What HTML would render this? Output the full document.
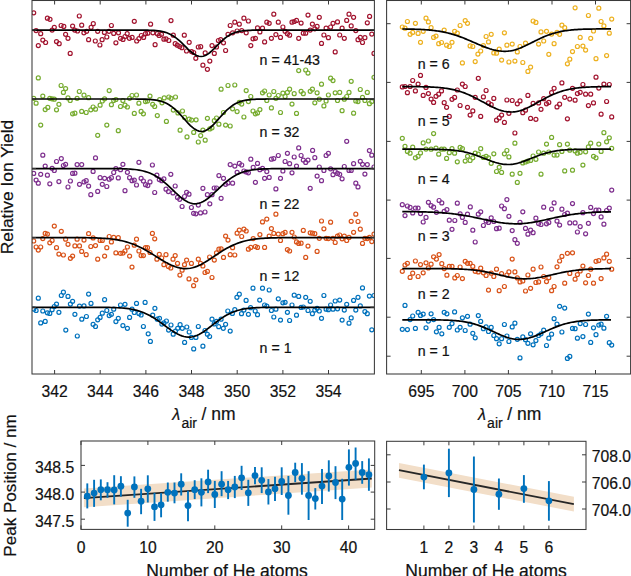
<!DOCTYPE html><html><head><meta charset="utf-8"><style>html,body{margin:0;padding:0;background:#fff;width:631px;height:576px;overflow:hidden}svg{display:block}text{font-family:"Liberation Sans",sans-serif;fill:#111;stroke:#111;stroke-width:0.2px}</style></head><body>
<svg width="631" height="576" viewBox="0 0 631 576">
<defs><clipPath id="cl"><rect x="32.0" y="0" width="342.4" height="374.0"/></clipPath>
<clipPath id="cr"><rect x="386.6" y="0" width="244.0" height="374.0"/></clipPath></defs>
<g clip-path="url(#cl)">
<g fill="none" stroke="#A2142F" stroke-width="1.2"><circle cx="33.7" cy="12.8" r="2.0"/><circle cx="36.1" cy="30.6" r="2.0"/><circle cx="38.3" cy="45.6" r="2.0"/><circle cx="40.7" cy="33.7" r="2.0"/><circle cx="42.8" cy="40.1" r="2.0"/><circle cx="45.6" cy="42.5" r="2.0"/><circle cx="47.4" cy="18.2" r="2.0"/><circle cx="50.0" cy="19.3" r="2.0"/><circle cx="52.1" cy="30.1" r="2.0"/><circle cx="54.3" cy="27.3" r="2.0"/><circle cx="56.5" cy="41.6" r="2.0"/><circle cx="59.2" cy="43.7" r="2.0"/><circle cx="61.1" cy="25.5" r="2.0"/><circle cx="63.8" cy="26.4" r="2.0"/><circle cx="65.6" cy="34.3" r="2.0"/><circle cx="68.0" cy="38.3" r="2.0"/><circle cx="70.2" cy="53.4" r="2.0"/><circle cx="72.6" cy="26.1" r="2.0"/><circle cx="74.7" cy="30.1" r="2.0"/><circle cx="77.5" cy="31.0" r="2.0"/><circle cx="79.3" cy="16.0" r="2.0"/><circle cx="81.7" cy="25.2" r="2.0"/><circle cx="83.9" cy="32.8" r="2.0"/><circle cx="86.6" cy="31.3" r="2.0"/><circle cx="88.6" cy="39.7" r="2.0"/><circle cx="91.1" cy="27.3" r="2.0"/><circle cx="93.3" cy="23.7" r="2.0"/><circle cx="95.3" cy="41.0" r="2.0"/><circle cx="97.7" cy="31.3" r="2.0"/><circle cx="99.9" cy="45.0" r="2.0"/><circle cx="102.1" cy="39.7" r="2.0"/><circle cx="104.4" cy="32.4" r="2.0"/><circle cx="106.8" cy="37.0" r="2.0"/><circle cx="109.0" cy="31.3" r="2.0"/><circle cx="111.4" cy="25.5" r="2.0"/><circle cx="113.7" cy="33.4" r="2.0"/><circle cx="115.9" cy="42.8" r="2.0"/><circle cx="118.5" cy="32.8" r="2.0"/><circle cx="120.5" cy="38.3" r="2.0"/><circle cx="123.0" cy="39.4" r="2.0"/><circle cx="125.0" cy="36.5" r="2.0"/><circle cx="127.2" cy="33.7" r="2.0"/><circle cx="129.4" cy="38.3" r="2.0"/><circle cx="132.1" cy="37.4" r="2.0"/><circle cx="134.3" cy="21.3" r="2.0"/><circle cx="136.7" cy="41.0" r="2.0"/><circle cx="138.9" cy="38.6" r="2.0"/><circle cx="141.3" cy="35.5" r="2.0"/><circle cx="143.6" cy="37.4" r="2.0"/><circle cx="145.5" cy="33.7" r="2.0"/><circle cx="147.8" cy="33.2" r="2.0"/><circle cx="150.6" cy="24.2" r="2.0"/><circle cx="152.9" cy="32.8" r="2.0"/><circle cx="155.1" cy="44.7" r="2.0"/><circle cx="157.3" cy="33.7" r="2.0"/><circle cx="159.1" cy="35.5" r="2.0"/><circle cx="161.5" cy="34.3" r="2.0"/><circle cx="163.9" cy="39.2" r="2.0"/><circle cx="166.0" cy="38.8" r="2.0"/><circle cx="168.8" cy="40.5" r="2.0"/><circle cx="171.0" cy="20.6" r="2.0"/><circle cx="173.3" cy="35.2" r="2.0"/><circle cx="175.2" cy="43.7" r="2.0"/><circle cx="177.3" cy="45.2" r="2.0"/><circle cx="179.7" cy="46.5" r="2.0"/><circle cx="181.9" cy="47.7" r="2.0"/><circle cx="184.3" cy="35.2" r="2.0"/><circle cx="186.5" cy="51.0" r="2.0"/><circle cx="189.2" cy="42.3" r="2.0"/><circle cx="191.6" cy="51.6" r="2.0"/><circle cx="193.7" cy="52.5" r="2.0"/><circle cx="195.8" cy="58.3" r="2.0"/><circle cx="198.3" cy="47.0" r="2.0"/><circle cx="200.7" cy="46.7" r="2.0"/><circle cx="202.9" cy="65.2" r="2.0"/><circle cx="205.2" cy="52.9" r="2.0"/><circle cx="207.4" cy="69.3" r="2.0"/><circle cx="209.8" cy="61.1" r="2.0"/><circle cx="212.0" cy="45.6" r="2.0"/><circle cx="214.3" cy="53.4" r="2.0"/><circle cx="216.5" cy="47.0" r="2.0"/><circle cx="218.4" cy="40.5" r="2.0"/><circle cx="220.7" cy="39.7" r="2.0"/><circle cx="223.5" cy="42.8" r="2.0"/><circle cx="225.6" cy="50.5" r="2.0"/><circle cx="228.0" cy="34.3" r="2.0"/><circle cx="230.2" cy="25.5" r="2.0"/><circle cx="232.6" cy="32.8" r="2.0"/><circle cx="234.8" cy="22.2" r="2.0"/><circle cx="237.1" cy="31.0" r="2.0"/><circle cx="239.3" cy="24.2" r="2.0"/><circle cx="241.7" cy="30.6" r="2.0"/><circle cx="243.9" cy="18.2" r="2.0"/><circle cx="246.2" cy="32.8" r="2.0"/><circle cx="248.4" cy="21.0" r="2.0"/><circle cx="250.8" cy="45.6" r="2.0"/><circle cx="253.0" cy="38.8" r="2.0"/><circle cx="255.4" cy="38.3" r="2.0"/><circle cx="257.5" cy="27.9" r="2.0"/><circle cx="259.9" cy="31.9" r="2.0"/><circle cx="262.5" cy="28.2" r="2.0"/><circle cx="264.6" cy="41.9" r="2.0"/><circle cx="266.8" cy="22.2" r="2.0"/><circle cx="269.2" cy="23.3" r="2.0"/><circle cx="271.4" cy="38.3" r="2.0"/><circle cx="273.8" cy="14.2" r="2.0"/><circle cx="275.9" cy="34.6" r="2.0"/><circle cx="278.3" cy="22.2" r="2.0"/><circle cx="280.5" cy="37.4" r="2.0"/><circle cx="282.9" cy="27.0" r="2.0"/><circle cx="285.1" cy="31.3" r="2.0"/><circle cx="287.4" cy="33.7" r="2.0"/><circle cx="289.6" cy="35.2" r="2.0"/><circle cx="292.0" cy="22.2" r="2.0"/><circle cx="294.2" cy="21.5" r="2.0"/><circle cx="296.5" cy="20.4" r="2.0"/><circle cx="298.7" cy="38.3" r="2.0"/><circle cx="301.1" cy="23.1" r="2.0"/><circle cx="303.3" cy="33.2" r="2.0"/><circle cx="305.7" cy="33.2" r="2.0"/><circle cx="308.0" cy="15.1" r="2.0"/><circle cx="310.2" cy="30.1" r="2.0"/><circle cx="312.4" cy="24.1" r="2.0"/><circle cx="314.8" cy="28.8" r="2.0"/><circle cx="317.1" cy="26.4" r="2.0"/><circle cx="319.3" cy="17.3" r="2.0"/><circle cx="321.5" cy="43.4" r="2.0"/><circle cx="323.9" cy="35.0" r="2.0"/><circle cx="326.1" cy="28.2" r="2.0"/><circle cx="328.4" cy="37.7" r="2.0"/><circle cx="330.6" cy="27.0" r="2.0"/><circle cx="333.0" cy="23.3" r="2.0"/><circle cx="335.2" cy="51.9" r="2.0"/><circle cx="337.5" cy="21.9" r="2.0"/><circle cx="339.7" cy="35.0" r="2.0"/><circle cx="342.1" cy="28.2" r="2.0"/><circle cx="344.3" cy="38.3" r="2.0"/><circle cx="346.7" cy="20.4" r="2.0"/><circle cx="349.0" cy="14.2" r="2.0"/><circle cx="351.2" cy="25.9" r="2.0"/><circle cx="353.6" cy="17.3" r="2.0"/><circle cx="355.8" cy="30.6" r="2.0"/><circle cx="358.0" cy="39.7" r="2.0"/><circle cx="360.3" cy="37.4" r="2.0"/><circle cx="362.5" cy="42.5" r="2.0"/><circle cx="364.9" cy="37.7" r="2.0"/><circle cx="367.3" cy="22.8" r="2.0"/><circle cx="369.6" cy="16.4" r="2.0"/><circle cx="371.8" cy="34.1" r="2.0"/><circle cx="374.0" cy="53.4" r="2.0"/></g>
<g fill="none" stroke="#77AC30" stroke-width="1.2"><circle cx="33.7" cy="98.3" r="2.0"/><circle cx="36.1" cy="103.2" r="2.0"/><circle cx="38.3" cy="77.9" r="2.0"/><circle cx="40.7" cy="125.1" r="2.0"/><circle cx="42.8" cy="96.1" r="2.0"/><circle cx="45.2" cy="109.6" r="2.0"/><circle cx="47.8" cy="107.4" r="2.0"/><circle cx="49.8" cy="98.3" r="2.0"/><circle cx="52.0" cy="98.8" r="2.0"/><circle cx="54.3" cy="99.2" r="2.0"/><circle cx="56.5" cy="109.8" r="2.0"/><circle cx="58.9" cy="104.3" r="2.0"/><circle cx="61.1" cy="85.5" r="2.0"/><circle cx="63.4" cy="92.4" r="2.0"/><circle cx="65.6" cy="88.6" r="2.0"/><circle cx="68.0" cy="97.9" r="2.0"/><circle cx="70.2" cy="100.5" r="2.0"/><circle cx="72.6" cy="113.8" r="2.0"/><circle cx="74.9" cy="113.2" r="2.0"/><circle cx="77.1" cy="98.3" r="2.0"/><circle cx="79.3" cy="91.5" r="2.0"/><circle cx="81.7" cy="111.4" r="2.0"/><circle cx="84.0" cy="95.2" r="2.0"/><circle cx="86.2" cy="112.5" r="2.0"/><circle cx="88.6" cy="97.7" r="2.0"/><circle cx="90.8" cy="109.8" r="2.0"/><circle cx="93.1" cy="107.0" r="2.0"/><circle cx="95.5" cy="109.2" r="2.0"/><circle cx="97.7" cy="135.3" r="2.0"/><circle cx="100.1" cy="105.2" r="2.0"/><circle cx="102.3" cy="101.0" r="2.0"/><circle cx="104.6" cy="98.8" r="2.0"/><circle cx="106.8" cy="125.1" r="2.0"/><circle cx="109.2" cy="90.6" r="2.0"/><circle cx="111.4" cy="104.7" r="2.0"/><circle cx="113.7" cy="100.5" r="2.0"/><circle cx="115.9" cy="99.5" r="2.0"/><circle cx="118.3" cy="130.7" r="2.0"/><circle cx="120.5" cy="106.5" r="2.0"/><circle cx="122.9" cy="100.6" r="2.0"/><circle cx="125.0" cy="105.2" r="2.0"/><circle cx="127.4" cy="107.0" r="2.0"/><circle cx="129.6" cy="98.3" r="2.0"/><circle cx="132.0" cy="95.5" r="2.0"/><circle cx="134.3" cy="113.4" r="2.0"/><circle cx="136.5" cy="95.0" r="2.0"/><circle cx="138.9" cy="103.2" r="2.0"/><circle cx="141.1" cy="111.4" r="2.0"/><circle cx="143.4" cy="113.8" r="2.0"/><circle cx="145.5" cy="101.6" r="2.0"/><circle cx="147.5" cy="101.0" r="2.0"/><circle cx="150.0" cy="96.1" r="2.0"/><circle cx="152.7" cy="104.3" r="2.0"/><circle cx="154.7" cy="106.5" r="2.0"/><circle cx="157.3" cy="115.6" r="2.0"/><circle cx="159.7" cy="99.7" r="2.0"/><circle cx="162.0" cy="102.8" r="2.0"/><circle cx="164.2" cy="97.9" r="2.0"/><circle cx="166.4" cy="121.4" r="2.0"/><circle cx="168.8" cy="97.0" r="2.0"/><circle cx="171.0" cy="98.3" r="2.0"/><circle cx="173.3" cy="110.1" r="2.0"/><circle cx="175.5" cy="97.0" r="2.0"/><circle cx="177.9" cy="112.9" r="2.0"/><circle cx="180.1" cy="130.2" r="2.0"/><circle cx="182.5" cy="111.0" r="2.0"/><circle cx="184.6" cy="117.4" r="2.0"/><circle cx="187.0" cy="136.9" r="2.0"/><circle cx="189.2" cy="119.2" r="2.0"/><circle cx="191.6" cy="120.1" r="2.0"/><circle cx="193.7" cy="132.4" r="2.0"/><circle cx="196.1" cy="119.8" r="2.0"/><circle cx="198.3" cy="142.0" r="2.0"/><circle cx="200.7" cy="135.6" r="2.0"/><circle cx="202.9" cy="130.2" r="2.0"/><circle cx="205.2" cy="140.2" r="2.0"/><circle cx="207.4" cy="118.3" r="2.0"/><circle cx="209.8" cy="128.9" r="2.0"/><circle cx="212.0" cy="127.8" r="2.0"/><circle cx="214.3" cy="120.7" r="2.0"/><circle cx="216.5" cy="118.0" r="2.0"/><circle cx="218.9" cy="124.2" r="2.0"/><circle cx="221.1" cy="89.2" r="2.0"/><circle cx="223.5" cy="112.5" r="2.0"/><circle cx="225.6" cy="125.1" r="2.0"/><circle cx="228.0" cy="85.5" r="2.0"/><circle cx="230.2" cy="126.0" r="2.0"/><circle cx="232.6" cy="108.8" r="2.0"/><circle cx="234.8" cy="85.0" r="2.0"/><circle cx="237.1" cy="111.6" r="2.0"/><circle cx="239.3" cy="102.3" r="2.0"/><circle cx="241.7" cy="104.1" r="2.0"/><circle cx="243.9" cy="117.0" r="2.0"/><circle cx="246.2" cy="90.6" r="2.0"/><circle cx="248.4" cy="101.6" r="2.0"/><circle cx="250.8" cy="96.5" r="2.0"/><circle cx="253.0" cy="111.0" r="2.0"/><circle cx="255.4" cy="113.8" r="2.0"/><circle cx="257.5" cy="112.9" r="2.0"/><circle cx="259.9" cy="109.6" r="2.0"/><circle cx="262.5" cy="92.8" r="2.0"/><circle cx="264.6" cy="91.0" r="2.0"/><circle cx="266.8" cy="100.5" r="2.0"/><circle cx="269.2" cy="95.0" r="2.0"/><circle cx="271.4" cy="107.9" r="2.0"/><circle cx="273.8" cy="91.5" r="2.0"/><circle cx="275.9" cy="98.3" r="2.0"/><circle cx="278.3" cy="95.5" r="2.0"/><circle cx="280.5" cy="112.5" r="2.0"/><circle cx="282.9" cy="93.2" r="2.0"/><circle cx="285.1" cy="96.5" r="2.0"/><circle cx="287.4" cy="92.4" r="2.0"/><circle cx="289.6" cy="89.2" r="2.0"/><circle cx="292.0" cy="104.1" r="2.0"/><circle cx="294.2" cy="93.7" r="2.0"/><circle cx="296.5" cy="113.4" r="2.0"/><circle cx="298.7" cy="70.6" r="2.0"/><circle cx="301.1" cy="91.3" r="2.0"/><circle cx="303.3" cy="93.7" r="2.0"/><circle cx="305.7" cy="70.0" r="2.0"/><circle cx="308.0" cy="73.1" r="2.0"/><circle cx="310.2" cy="91.3" r="2.0"/><circle cx="312.4" cy="89.2" r="2.0"/><circle cx="314.8" cy="102.8" r="2.0"/><circle cx="317.1" cy="92.8" r="2.0"/><circle cx="319.3" cy="99.2" r="2.0"/><circle cx="321.5" cy="84.2" r="2.0"/><circle cx="323.9" cy="105.9" r="2.0"/><circle cx="326.1" cy="101.0" r="2.0"/><circle cx="328.4" cy="95.0" r="2.0"/><circle cx="330.6" cy="78.2" r="2.0"/><circle cx="333.0" cy="80.6" r="2.0"/><circle cx="335.2" cy="92.8" r="2.0"/><circle cx="337.5" cy="100.5" r="2.0"/><circle cx="339.7" cy="92.4" r="2.0"/><circle cx="342.1" cy="110.7" r="2.0"/><circle cx="344.3" cy="99.2" r="2.0"/><circle cx="346.7" cy="96.5" r="2.0"/><circle cx="349.0" cy="92.4" r="2.0"/><circle cx="351.2" cy="81.3" r="2.0"/><circle cx="353.6" cy="113.2" r="2.0"/><circle cx="355.8" cy="101.0" r="2.0"/><circle cx="358.0" cy="101.6" r="2.0"/><circle cx="360.3" cy="89.5" r="2.0"/><circle cx="362.5" cy="97.4" r="2.0"/><circle cx="364.9" cy="100.5" r="2.0"/><circle cx="367.3" cy="92.4" r="2.0"/><circle cx="369.4" cy="103.7" r="2.0"/><circle cx="371.8" cy="101.6" r="2.0"/><circle cx="374.0" cy="77.3" r="2.0"/></g>
<g fill="none" stroke="#7E2F8E" stroke-width="1.2"><circle cx="33.7" cy="173.4" r="2.0"/><circle cx="36.1" cy="180.1" r="2.0"/><circle cx="38.3" cy="183.2" r="2.0"/><circle cx="40.7" cy="174.3" r="2.0"/><circle cx="42.8" cy="155.2" r="2.0"/><circle cx="45.2" cy="166.1" r="2.0"/><circle cx="47.4" cy="175.2" r="2.0"/><circle cx="49.8" cy="183.8" r="2.0"/><circle cx="52.1" cy="168.3" r="2.0"/><circle cx="54.3" cy="170.5" r="2.0"/><circle cx="56.5" cy="161.5" r="2.0"/><circle cx="58.9" cy="181.6" r="2.0"/><circle cx="61.3" cy="158.6" r="2.0"/><circle cx="63.4" cy="165.5" r="2.0"/><circle cx="65.6" cy="164.3" r="2.0"/><circle cx="68.0" cy="187.0" r="2.0"/><circle cx="70.4" cy="181.0" r="2.0"/><circle cx="72.6" cy="173.4" r="2.0"/><circle cx="74.9" cy="173.2" r="2.0"/><circle cx="77.1" cy="164.6" r="2.0"/><circle cx="79.5" cy="184.3" r="2.0"/><circle cx="81.7" cy="164.6" r="2.0"/><circle cx="84.0" cy="181.9" r="2.0"/><circle cx="86.2" cy="180.7" r="2.0"/><circle cx="88.6" cy="186.1" r="2.0"/><circle cx="90.8" cy="194.7" r="2.0"/><circle cx="93.1" cy="171.4" r="2.0"/><circle cx="95.5" cy="157.9" r="2.0"/><circle cx="97.7" cy="191.4" r="2.0"/><circle cx="100.1" cy="177.7" r="2.0"/><circle cx="102.3" cy="184.3" r="2.0"/><circle cx="104.6" cy="178.3" r="2.0"/><circle cx="106.8" cy="186.5" r="2.0"/><circle cx="109.2" cy="179.2" r="2.0"/><circle cx="111.4" cy="177.7" r="2.0"/><circle cx="113.7" cy="172.5" r="2.0"/><circle cx="115.9" cy="168.6" r="2.0"/><circle cx="118.3" cy="177.9" r="2.0"/><circle cx="120.5" cy="169.7" r="2.0"/><circle cx="122.9" cy="164.3" r="2.0"/><circle cx="125.0" cy="190.7" r="2.0"/><circle cx="127.4" cy="172.3" r="2.0"/><circle cx="129.6" cy="177.7" r="2.0"/><circle cx="132.0" cy="180.7" r="2.0"/><circle cx="134.3" cy="180.1" r="2.0"/><circle cx="136.5" cy="185.0" r="2.0"/><circle cx="138.9" cy="162.3" r="2.0"/><circle cx="141.1" cy="178.3" r="2.0"/><circle cx="143.4" cy="181.0" r="2.0"/><circle cx="145.5" cy="184.7" r="2.0"/><circle cx="147.8" cy="185.6" r="2.0"/><circle cx="150.0" cy="181.9" r="2.0"/><circle cx="152.4" cy="165.0" r="2.0"/><circle cx="154.7" cy="192.5" r="2.0"/><circle cx="156.9" cy="175.2" r="2.0"/><circle cx="159.3" cy="179.6" r="2.0"/><circle cx="161.7" cy="180.7" r="2.0"/><circle cx="163.9" cy="178.8" r="2.0"/><circle cx="166.0" cy="189.2" r="2.0"/><circle cx="168.4" cy="191.6" r="2.0"/><circle cx="170.8" cy="174.3" r="2.0"/><circle cx="173.0" cy="192.9" r="2.0"/><circle cx="175.2" cy="186.0" r="2.0"/><circle cx="177.5" cy="197.4" r="2.0"/><circle cx="179.7" cy="199.3" r="2.0"/><circle cx="182.1" cy="206.5" r="2.0"/><circle cx="184.5" cy="196.5" r="2.0"/><circle cx="186.6" cy="192.3" r="2.0"/><circle cx="189.0" cy="194.2" r="2.0"/><circle cx="191.4" cy="207.5" r="2.0"/><circle cx="193.6" cy="213.3" r="2.0"/><circle cx="195.9" cy="213.8" r="2.0"/><circle cx="198.3" cy="205.1" r="2.0"/><circle cx="200.5" cy="212.9" r="2.0"/><circle cx="202.9" cy="188.3" r="2.0"/><circle cx="205.0" cy="212.0" r="2.0"/><circle cx="207.4" cy="194.7" r="2.0"/><circle cx="209.8" cy="203.8" r="2.0"/><circle cx="212.0" cy="194.7" r="2.0"/><circle cx="214.2" cy="188.0" r="2.0"/><circle cx="216.5" cy="188.0" r="2.0"/><circle cx="218.9" cy="175.6" r="2.0"/><circle cx="221.1" cy="198.3" r="2.0"/><circle cx="223.5" cy="178.3" r="2.0"/><circle cx="225.6" cy="184.3" r="2.0"/><circle cx="228.0" cy="182.9" r="2.0"/><circle cx="230.2" cy="164.6" r="2.0"/><circle cx="232.6" cy="183.2" r="2.0"/><circle cx="234.8" cy="166.1" r="2.0"/><circle cx="237.1" cy="172.3" r="2.0"/><circle cx="239.3" cy="163.4" r="2.0"/><circle cx="241.7" cy="165.0" r="2.0"/><circle cx="243.9" cy="171.0" r="2.0"/><circle cx="246.2" cy="171.9" r="2.0"/><circle cx="248.4" cy="172.8" r="2.0"/><circle cx="250.8" cy="159.2" r="2.0"/><circle cx="253.2" cy="167.4" r="2.0"/><circle cx="255.4" cy="182.3" r="2.0"/><circle cx="257.5" cy="163.4" r="2.0"/><circle cx="259.9" cy="169.7" r="2.0"/><circle cx="262.5" cy="168.3" r="2.0"/><circle cx="264.6" cy="178.3" r="2.0"/><circle cx="266.8" cy="171.6" r="2.0"/><circle cx="269.2" cy="177.4" r="2.0"/><circle cx="271.4" cy="159.2" r="2.0"/><circle cx="273.8" cy="158.6" r="2.0"/><circle cx="275.9" cy="188.9" r="2.0"/><circle cx="278.3" cy="155.5" r="2.0"/><circle cx="280.5" cy="178.3" r="2.0"/><circle cx="282.9" cy="171.0" r="2.0"/><circle cx="285.1" cy="161.5" r="2.0"/><circle cx="287.4" cy="153.3" r="2.0"/><circle cx="289.6" cy="163.7" r="2.0"/><circle cx="292.0" cy="172.8" r="2.0"/><circle cx="294.2" cy="157.0" r="2.0"/><circle cx="296.5" cy="166.1" r="2.0"/><circle cx="298.7" cy="147.9" r="2.0"/><circle cx="301.1" cy="155.5" r="2.0"/><circle cx="303.3" cy="160.1" r="2.0"/><circle cx="305.7" cy="162.4" r="2.0"/><circle cx="308.0" cy="160.1" r="2.0"/><circle cx="310.2" cy="188.3" r="2.0"/><circle cx="312.6" cy="150.4" r="2.0"/><circle cx="314.8" cy="157.7" r="2.0"/><circle cx="317.1" cy="176.1" r="2.0"/><circle cx="319.3" cy="167.0" r="2.0"/><circle cx="321.5" cy="180.7" r="2.0"/><circle cx="323.9" cy="170.5" r="2.0"/><circle cx="326.1" cy="155.5" r="2.0"/><circle cx="328.4" cy="153.3" r="2.0"/><circle cx="330.6" cy="168.8" r="2.0"/><circle cx="333.0" cy="174.7" r="2.0"/><circle cx="335.2" cy="171.6" r="2.0"/><circle cx="337.5" cy="173.4" r="2.0"/><circle cx="339.7" cy="174.3" r="2.0"/><circle cx="342.1" cy="178.8" r="2.0"/><circle cx="344.3" cy="166.5" r="2.0"/><circle cx="346.7" cy="141.3" r="2.0"/><circle cx="349.0" cy="170.5" r="2.0"/><circle cx="351.2" cy="170.5" r="2.0"/><circle cx="353.6" cy="163.7" r="2.0"/><circle cx="355.8" cy="183.2" r="2.0"/><circle cx="358.0" cy="186.9" r="2.0"/><circle cx="360.3" cy="161.3" r="2.0"/><circle cx="362.5" cy="164.3" r="2.0"/><circle cx="364.9" cy="174.1" r="2.0"/><circle cx="367.3" cy="164.6" r="2.0"/><circle cx="369.4" cy="150.6" r="2.0"/><circle cx="371.8" cy="155.2" r="2.0"/><circle cx="374.0" cy="167.0" r="2.0"/></g>
<g fill="none" stroke="#D95319" stroke-width="1.2"><circle cx="33.7" cy="241.0" r="2.0"/><circle cx="36.1" cy="247.0" r="2.0"/><circle cx="38.3" cy="250.1" r="2.0"/><circle cx="40.7" cy="247.0" r="2.0"/><circle cx="42.8" cy="238.6" r="2.0"/><circle cx="45.2" cy="233.4" r="2.0"/><circle cx="47.4" cy="234.1" r="2.0"/><circle cx="49.8" cy="242.8" r="2.0"/><circle cx="52.1" cy="240.5" r="2.0"/><circle cx="54.3" cy="226.1" r="2.0"/><circle cx="56.5" cy="247.7" r="2.0"/><circle cx="58.9" cy="254.1" r="2.0"/><circle cx="61.3" cy="231.3" r="2.0"/><circle cx="63.4" cy="255.0" r="2.0"/><circle cx="65.6" cy="239.2" r="2.0"/><circle cx="68.0" cy="244.3" r="2.0"/><circle cx="70.4" cy="258.3" r="2.0"/><circle cx="72.6" cy="256.1" r="2.0"/><circle cx="74.9" cy="245.9" r="2.0"/><circle cx="77.1" cy="239.2" r="2.0"/><circle cx="79.5" cy="245.9" r="2.0"/><circle cx="81.7" cy="251.4" r="2.0"/><circle cx="84.0" cy="240.1" r="2.0"/><circle cx="86.2" cy="254.7" r="2.0"/><circle cx="88.6" cy="233.7" r="2.0"/><circle cx="90.8" cy="246.5" r="2.0"/><circle cx="93.1" cy="237.9" r="2.0"/><circle cx="95.5" cy="245.6" r="2.0"/><circle cx="97.7" cy="259.2" r="2.0"/><circle cx="100.1" cy="240.5" r="2.0"/><circle cx="102.3" cy="240.5" r="2.0"/><circle cx="104.6" cy="256.1" r="2.0"/><circle cx="106.8" cy="247.7" r="2.0"/><circle cx="109.2" cy="236.5" r="2.0"/><circle cx="111.4" cy="241.9" r="2.0"/><circle cx="113.7" cy="237.4" r="2.0"/><circle cx="115.9" cy="252.9" r="2.0"/><circle cx="118.3" cy="237.7" r="2.0"/><circle cx="120.5" cy="253.4" r="2.0"/><circle cx="122.9" cy="253.2" r="2.0"/><circle cx="125.0" cy="251.0" r="2.0"/><circle cx="127.4" cy="247.0" r="2.0"/><circle cx="129.6" cy="256.1" r="2.0"/><circle cx="132.0" cy="267.1" r="2.0"/><circle cx="134.3" cy="245.2" r="2.0"/><circle cx="136.5" cy="239.2" r="2.0"/><circle cx="138.9" cy="251.0" r="2.0"/><circle cx="141.1" cy="255.6" r="2.0"/><circle cx="143.4" cy="255.6" r="2.0"/><circle cx="145.5" cy="247.7" r="2.0"/><circle cx="147.5" cy="247.7" r="2.0"/><circle cx="150.0" cy="252.5" r="2.0"/><circle cx="152.4" cy="233.4" r="2.0"/><circle cx="154.7" cy="238.8" r="2.0"/><circle cx="156.9" cy="259.2" r="2.0"/><circle cx="159.3" cy="254.3" r="2.0"/><circle cx="161.7" cy="258.0" r="2.0"/><circle cx="163.9" cy="264.7" r="2.0"/><circle cx="166.0" cy="254.7" r="2.0"/><circle cx="168.4" cy="266.5" r="2.0"/><circle cx="170.8" cy="268.0" r="2.0"/><circle cx="173.0" cy="259.2" r="2.0"/><circle cx="175.2" cy="255.6" r="2.0"/><circle cx="177.5" cy="263.4" r="2.0"/><circle cx="179.9" cy="275.1" r="2.0"/><circle cx="182.1" cy="270.2" r="2.0"/><circle cx="184.5" cy="264.7" r="2.0"/><circle cx="186.6" cy="260.1" r="2.0"/><circle cx="189.0" cy="278.9" r="2.0"/><circle cx="191.4" cy="263.4" r="2.0"/><circle cx="193.6" cy="285.7" r="2.0"/><circle cx="195.9" cy="279.8" r="2.0"/><circle cx="198.3" cy="259.2" r="2.0"/><circle cx="200.5" cy="263.4" r="2.0"/><circle cx="202.9" cy="266.0" r="2.0"/><circle cx="205.0" cy="272.5" r="2.0"/><circle cx="207.4" cy="271.4" r="2.0"/><circle cx="209.6" cy="257.0" r="2.0"/><circle cx="212.0" cy="277.5" r="2.0"/><circle cx="214.3" cy="260.1" r="2.0"/><circle cx="216.5" cy="252.9" r="2.0"/><circle cx="218.9" cy="249.2" r="2.0"/><circle cx="221.1" cy="248.8" r="2.0"/><circle cx="223.5" cy="257.4" r="2.0"/><circle cx="225.6" cy="236.1" r="2.0"/><circle cx="228.0" cy="240.1" r="2.0"/><circle cx="230.2" cy="254.7" r="2.0"/><circle cx="232.6" cy="247.7" r="2.0"/><circle cx="234.8" cy="255.0" r="2.0"/><circle cx="237.1" cy="233.2" r="2.0"/><circle cx="239.3" cy="230.1" r="2.0"/><circle cx="241.7" cy="236.5" r="2.0"/><circle cx="243.9" cy="229.2" r="2.0"/><circle cx="246.2" cy="231.0" r="2.0"/><circle cx="248.4" cy="249.2" r="2.0"/><circle cx="250.8" cy="247.4" r="2.0"/><circle cx="253.2" cy="238.6" r="2.0"/><circle cx="255.4" cy="246.5" r="2.0"/><circle cx="257.5" cy="247.4" r="2.0"/><circle cx="259.9" cy="234.6" r="2.0"/><circle cx="262.5" cy="221.9" r="2.0"/><circle cx="264.6" cy="247.4" r="2.0"/><circle cx="266.8" cy="219.1" r="2.0"/><circle cx="269.2" cy="236.1" r="2.0"/><circle cx="271.4" cy="228.6" r="2.0"/><circle cx="273.8" cy="233.4" r="2.0"/><circle cx="275.9" cy="214.2" r="2.0"/><circle cx="278.3" cy="234.1" r="2.0"/><circle cx="280.5" cy="240.5" r="2.0"/><circle cx="282.9" cy="233.7" r="2.0"/><circle cx="285.1" cy="232.4" r="2.0"/><circle cx="287.4" cy="249.6" r="2.0"/><circle cx="289.6" cy="251.0" r="2.0"/><circle cx="292.0" cy="232.3" r="2.0"/><circle cx="294.2" cy="237.0" r="2.0"/><circle cx="296.5" cy="241.9" r="2.0"/><circle cx="298.7" cy="243.4" r="2.0"/><circle cx="301.1" cy="243.2" r="2.0"/><circle cx="303.3" cy="230.4" r="2.0"/><circle cx="305.7" cy="257.4" r="2.0"/><circle cx="308.0" cy="246.1" r="2.0"/><circle cx="310.2" cy="232.8" r="2.0"/><circle cx="312.4" cy="233.2" r="2.0"/><circle cx="314.8" cy="233.7" r="2.0"/><circle cx="317.1" cy="251.4" r="2.0"/><circle cx="319.3" cy="238.3" r="2.0"/><circle cx="321.5" cy="221.0" r="2.0"/><circle cx="323.9" cy="228.8" r="2.0"/><circle cx="326.1" cy="238.3" r="2.0"/><circle cx="328.4" cy="238.6" r="2.0"/><circle cx="330.6" cy="222.2" r="2.0"/><circle cx="333.0" cy="238.3" r="2.0"/><circle cx="335.2" cy="242.5" r="2.0"/><circle cx="337.5" cy="236.1" r="2.0"/><circle cx="339.7" cy="235.0" r="2.0"/><circle cx="342.1" cy="238.8" r="2.0"/><circle cx="344.3" cy="236.1" r="2.0"/><circle cx="346.7" cy="240.5" r="2.0"/><circle cx="349.0" cy="237.4" r="2.0"/><circle cx="351.2" cy="221.3" r="2.0"/><circle cx="353.6" cy="232.3" r="2.0"/><circle cx="355.8" cy="214.2" r="2.0"/><circle cx="358.0" cy="221.5" r="2.0"/><circle cx="360.3" cy="229.2" r="2.0"/><circle cx="362.5" cy="243.4" r="2.0"/><circle cx="364.9" cy="238.3" r="2.0"/><circle cx="367.3" cy="238.6" r="2.0"/><circle cx="369.4" cy="237.4" r="2.0"/><circle cx="371.8" cy="241.6" r="2.0"/><circle cx="374.0" cy="234.1" r="2.0"/></g>
<g fill="none" stroke="#0072BD" stroke-width="1.2"><circle cx="33.7" cy="309.2" r="2.0"/><circle cx="36.1" cy="310.5" r="2.0"/><circle cx="38.3" cy="298.2" r="2.0"/><circle cx="40.7" cy="322.9" r="2.0"/><circle cx="42.8" cy="311.0" r="2.0"/><circle cx="45.2" cy="321.4" r="2.0"/><circle cx="47.4" cy="312.8" r="2.0"/><circle cx="49.8" cy="313.4" r="2.0"/><circle cx="52.1" cy="309.7" r="2.0"/><circle cx="54.3" cy="306.5" r="2.0"/><circle cx="56.5" cy="304.1" r="2.0"/><circle cx="58.9" cy="312.3" r="2.0"/><circle cx="61.3" cy="295.5" r="2.0"/><circle cx="63.4" cy="292.2" r="2.0"/><circle cx="65.8" cy="330.1" r="2.0"/><circle cx="68.0" cy="296.4" r="2.0"/><circle cx="70.4" cy="304.1" r="2.0"/><circle cx="72.6" cy="301.3" r="2.0"/><circle cx="74.9" cy="314.3" r="2.0"/><circle cx="77.3" cy="336.0" r="2.0"/><circle cx="79.5" cy="306.1" r="2.0"/><circle cx="81.8" cy="319.2" r="2.0"/><circle cx="84.0" cy="305.9" r="2.0"/><circle cx="86.4" cy="316.5" r="2.0"/><circle cx="88.6" cy="294.1" r="2.0"/><circle cx="91.0" cy="303.4" r="2.0"/><circle cx="93.1" cy="324.3" r="2.0"/><circle cx="95.5" cy="326.5" r="2.0"/><circle cx="97.7" cy="319.8" r="2.0"/><circle cx="100.1" cy="317.4" r="2.0"/><circle cx="102.3" cy="313.2" r="2.0"/><circle cx="104.6" cy="299.7" r="2.0"/><circle cx="106.8" cy="310.5" r="2.0"/><circle cx="109.2" cy="315.6" r="2.0"/><circle cx="111.4" cy="314.3" r="2.0"/><circle cx="113.7" cy="309.2" r="2.0"/><circle cx="115.9" cy="321.6" r="2.0"/><circle cx="118.3" cy="318.3" r="2.0"/><circle cx="120.5" cy="305.0" r="2.0"/><circle cx="122.9" cy="325.6" r="2.0"/><circle cx="125.0" cy="304.3" r="2.0"/><circle cx="127.4" cy="328.3" r="2.0"/><circle cx="129.6" cy="317.4" r="2.0"/><circle cx="132.0" cy="309.2" r="2.0"/><circle cx="134.3" cy="312.5" r="2.0"/><circle cx="136.5" cy="303.4" r="2.0"/><circle cx="138.9" cy="313.4" r="2.0"/><circle cx="141.1" cy="315.0" r="2.0"/><circle cx="143.4" cy="326.5" r="2.0"/><circle cx="145.1" cy="302.4" r="2.0"/><circle cx="148.2" cy="333.8" r="2.0"/><circle cx="150.4" cy="341.4" r="2.0"/><circle cx="152.7" cy="315.2" r="2.0"/><circle cx="154.9" cy="308.3" r="2.0"/><circle cx="157.3" cy="319.2" r="2.0"/><circle cx="159.5" cy="318.3" r="2.0"/><circle cx="161.9" cy="324.1" r="2.0"/><circle cx="164.0" cy="322.9" r="2.0"/><circle cx="166.4" cy="321.0" r="2.0"/><circle cx="168.6" cy="330.1" r="2.0"/><circle cx="171.0" cy="325.0" r="2.0"/><circle cx="173.2" cy="334.2" r="2.0"/><circle cx="175.5" cy="331.1" r="2.0"/><circle cx="177.7" cy="328.3" r="2.0"/><circle cx="180.1" cy="324.7" r="2.0"/><circle cx="182.3" cy="328.3" r="2.0"/><circle cx="184.6" cy="342.4" r="2.0"/><circle cx="186.8" cy="327.0" r="2.0"/><circle cx="189.2" cy="332.0" r="2.0"/><circle cx="191.4" cy="337.4" r="2.0"/><circle cx="193.7" cy="348.9" r="2.0"/><circle cx="195.9" cy="337.4" r="2.0"/><circle cx="198.3" cy="326.5" r="2.0"/><circle cx="202.9" cy="346.2" r="2.0"/><circle cx="205.0" cy="330.5" r="2.0"/><circle cx="207.4" cy="334.3" r="2.0"/><circle cx="209.6" cy="336.5" r="2.0"/><circle cx="212.0" cy="319.2" r="2.0"/><circle cx="214.2" cy="323.9" r="2.0"/><circle cx="216.5" cy="321.4" r="2.0"/><circle cx="218.7" cy="326.7" r="2.0"/><circle cx="221.1" cy="319.2" r="2.0"/><circle cx="223.3" cy="328.3" r="2.0"/><circle cx="225.6" cy="324.3" r="2.0"/><circle cx="227.8" cy="311.0" r="2.0"/><circle cx="230.2" cy="331.1" r="2.0"/><circle cx="232.4" cy="313.4" r="2.0"/><circle cx="234.8" cy="309.7" r="2.0"/><circle cx="236.9" cy="297.3" r="2.0"/><circle cx="239.3" cy="294.2" r="2.0"/><circle cx="241.5" cy="313.7" r="2.0"/><circle cx="243.9" cy="310.1" r="2.0"/><circle cx="246.1" cy="300.4" r="2.0"/><circle cx="248.4" cy="314.3" r="2.0"/><circle cx="250.6" cy="307.7" r="2.0"/><circle cx="253.0" cy="288.2" r="2.0"/><circle cx="255.2" cy="311.0" r="2.0"/><circle cx="257.5" cy="314.7" r="2.0"/><circle cx="259.7" cy="300.1" r="2.0"/><circle cx="262.5" cy="288.2" r="2.0"/><circle cx="264.6" cy="305.0" r="2.0"/><circle cx="266.8" cy="306.1" r="2.0"/><circle cx="269.2" cy="290.0" r="2.0"/><circle cx="271.4" cy="310.5" r="2.0"/><circle cx="273.8" cy="317.0" r="2.0"/><circle cx="275.9" cy="309.2" r="2.0"/><circle cx="278.3" cy="298.8" r="2.0"/><circle cx="280.5" cy="320.1" r="2.0"/><circle cx="282.9" cy="302.8" r="2.0"/><circle cx="285.1" cy="302.3" r="2.0"/><circle cx="287.4" cy="312.3" r="2.0"/><circle cx="289.6" cy="320.5" r="2.0"/><circle cx="292.0" cy="305.0" r="2.0"/><circle cx="294.2" cy="295.2" r="2.0"/><circle cx="296.5" cy="315.2" r="2.0"/><circle cx="298.7" cy="296.4" r="2.0"/><circle cx="301.1" cy="307.4" r="2.0"/><circle cx="303.3" cy="307.0" r="2.0"/><circle cx="305.7" cy="297.3" r="2.0"/><circle cx="308.0" cy="310.5" r="2.0"/><circle cx="310.2" cy="301.3" r="2.0"/><circle cx="312.4" cy="313.7" r="2.0"/><circle cx="314.8" cy="310.1" r="2.0"/><circle cx="317.1" cy="308.3" r="2.0"/><circle cx="319.3" cy="311.0" r="2.0"/><circle cx="321.5" cy="318.3" r="2.0"/><circle cx="323.9" cy="295.5" r="2.0"/><circle cx="326.1" cy="309.2" r="2.0"/><circle cx="328.4" cy="309.7" r="2.0"/><circle cx="330.6" cy="305.0" r="2.0"/><circle cx="333.0" cy="309.2" r="2.0"/><circle cx="335.2" cy="301.0" r="2.0"/><circle cx="337.5" cy="308.8" r="2.0"/><circle cx="339.7" cy="300.1" r="2.0"/><circle cx="342.1" cy="320.1" r="2.0"/><circle cx="344.3" cy="310.1" r="2.0"/><circle cx="346.7" cy="304.3" r="2.0"/><circle cx="349.0" cy="323.2" r="2.0"/><circle cx="351.2" cy="317.9" r="2.0"/><circle cx="353.6" cy="300.4" r="2.0"/><circle cx="355.8" cy="310.1" r="2.0"/><circle cx="358.0" cy="297.3" r="2.0"/><circle cx="360.3" cy="305.9" r="2.0"/><circle cx="362.5" cy="287.9" r="2.0"/><circle cx="364.9" cy="311.6" r="2.0"/><circle cx="367.3" cy="313.7" r="2.0"/><circle cx="369.4" cy="296.1" r="2.0"/><circle cx="371.8" cy="329.8" r="2.0"/><circle cx="374.0" cy="295.5" r="2.0"/></g>
<path d="M32.00,30.10 L34.14,30.10 L36.28,30.10 L38.42,30.10 L40.56,30.10 L42.70,30.10 L44.84,30.10 L46.98,30.10 L49.12,30.10 L51.26,30.10 L53.40,30.10 L55.54,30.10 L57.68,30.10 L59.82,30.10 L61.96,30.10 L64.10,30.10 L66.24,30.10 L68.38,30.10 L70.52,30.10 L72.66,30.10 L74.80,30.10 L76.94,30.10 L79.08,30.10 L81.22,30.10 L83.36,30.10 L85.50,30.10 L87.64,30.10 L89.78,30.10 L91.92,30.10 L94.06,30.10 L96.20,30.10 L98.34,30.10 L100.48,30.10 L102.62,30.10 L104.76,30.10 L106.90,30.10 L109.04,30.10 L111.18,30.10 L113.32,30.10 L115.46,30.10 L117.60,30.10 L119.74,30.10 L121.88,30.10 L124.02,30.10 L126.16,30.10 L128.30,30.10 L130.44,30.10 L132.58,30.10 L134.72,30.10 L136.86,30.11 L139.00,30.11 L141.14,30.12 L143.28,30.14 L145.42,30.16 L147.56,30.20 L149.70,30.25 L151.84,30.34 L153.98,30.45 L156.12,30.62 L158.26,30.84 L160.40,31.16 L162.54,31.57 L164.68,32.11 L166.82,32.80 L168.96,33.66 L171.10,34.71 L173.24,35.96 L175.38,37.43 L177.52,39.09 L179.66,40.95 L181.80,42.95 L183.94,45.05 L186.08,47.19 L188.22,49.29 L190.36,51.26 L192.50,53.03 L194.64,54.49 L196.78,55.60 L198.92,56.28 L201.06,56.50 L203.20,56.24 L205.34,55.50 L207.48,54.32 L209.62,52.76 L211.76,50.91 L213.90,48.86 L216.04,46.69 L218.18,44.50 L220.32,42.36 L222.46,40.35 L224.60,38.51 L226.74,36.87 L228.88,35.45 L231.02,34.24 L233.16,33.25 L235.30,32.45 L237.44,31.82 L239.58,31.34 L241.72,30.98 L243.86,30.71 L246.00,30.51 L248.14,30.37 L250.28,30.28 L252.42,30.22 L254.56,30.17 L256.70,30.15 L258.84,30.13 L260.98,30.12 L263.12,30.11 L265.26,30.11 L267.40,30.10 L269.54,30.10 L271.68,30.10 L273.82,30.10 L275.96,30.10 L278.10,30.10 L280.24,30.10 L282.38,30.10 L284.52,30.10 L286.66,30.10 L288.80,30.10 L290.94,30.10 L293.08,30.10 L295.22,30.10 L297.36,30.10 L299.50,30.10 L301.64,30.10 L303.78,30.10 L305.92,30.10 L308.06,30.10 L310.20,30.10 L312.34,30.10 L314.48,30.10 L316.62,30.10 L318.76,30.10 L320.90,30.10 L323.04,30.10 L325.18,30.10 L327.32,30.10 L329.46,30.10 L331.60,30.10 L333.74,30.10 L335.88,30.10 L338.02,30.10 L340.16,30.10 L342.30,30.10 L344.44,30.10 L346.58,30.10 L348.72,30.10 L350.86,30.10 L353.00,30.10 L355.14,30.10 L357.28,30.10 L359.42,30.10 L361.56,30.10 L363.70,30.10 L365.84,30.10 L367.98,30.10 L370.12,30.10 L372.26,30.10 L374.40,30.10" fill="none" stroke="#000" stroke-width="1.7"/>
<path d="M32.00,99.00 L34.14,99.00 L36.28,99.00 L38.42,99.00 L40.56,99.00 L42.70,99.00 L44.84,99.00 L46.98,99.00 L49.12,99.00 L51.26,99.00 L53.40,99.00 L55.54,99.00 L57.68,99.00 L59.82,99.00 L61.96,99.00 L64.10,99.00 L66.24,99.00 L68.38,99.00 L70.52,99.00 L72.66,99.00 L74.80,99.00 L76.94,99.00 L79.08,99.00 L81.22,99.00 L83.36,99.00 L85.50,99.00 L87.64,99.00 L89.78,99.00 L91.92,99.00 L94.06,99.00 L96.20,99.00 L98.34,99.00 L100.48,99.00 L102.62,99.00 L104.76,99.00 L106.90,99.00 L109.04,99.00 L111.18,99.00 L113.32,99.00 L115.46,99.00 L117.60,99.00 L119.74,99.00 L121.88,99.00 L124.02,99.00 L126.16,99.00 L128.30,99.01 L130.44,99.01 L132.58,99.01 L134.72,99.02 L136.86,99.04 L139.00,99.06 L141.14,99.08 L143.28,99.13 L145.42,99.19 L147.56,99.28 L149.70,99.41 L151.84,99.58 L153.98,99.81 L156.12,100.13 L158.26,100.54 L160.40,101.06 L162.54,101.73 L164.68,102.55 L166.82,103.56 L168.96,104.77 L171.10,106.19 L173.24,107.82 L175.38,109.67 L177.52,111.71 L179.66,113.92 L181.80,116.25 L183.94,118.64 L186.08,121.04 L188.22,123.37 L190.36,125.54 L192.50,127.47 L194.64,129.10 L196.78,130.34 L198.92,131.15 L201.06,131.49 L203.20,131.34 L205.34,130.71 L207.48,129.62 L209.62,128.11 L211.76,126.26 L213.90,124.14 L216.04,121.83 L218.18,119.42 L220.32,116.98 L222.46,114.60 L224.60,112.33 L226.74,110.21 L228.88,108.29 L231.02,106.58 L233.16,105.09 L235.30,103.82 L237.44,102.76 L239.58,101.88 L241.72,101.18 L243.86,100.62 L246.00,100.19 L248.14,99.86 L250.28,99.61 L252.42,99.43 L254.56,99.29 L256.70,99.20 L258.84,99.13 L260.98,99.09 L263.12,99.06 L265.26,99.04 L267.40,99.02 L269.54,99.01 L271.68,99.01 L273.82,99.01 L275.96,99.00 L278.10,99.00 L280.24,99.00 L282.38,99.00 L284.52,99.00 L286.66,99.00 L288.80,99.00 L290.94,99.00 L293.08,99.00 L295.22,99.00 L297.36,99.00 L299.50,99.00 L301.64,99.00 L303.78,99.00 L305.92,99.00 L308.06,99.00 L310.20,99.00 L312.34,99.00 L314.48,99.00 L316.62,99.00 L318.76,99.00 L320.90,99.00 L323.04,99.00 L325.18,99.00 L327.32,99.00 L329.46,99.00 L331.60,99.00 L333.74,99.00 L335.88,99.00 L338.02,99.00 L340.16,99.00 L342.30,99.00 L344.44,99.00 L346.58,99.00 L348.72,99.00 L350.86,99.00 L353.00,99.00 L355.14,99.00 L357.28,99.00 L359.42,99.00 L361.56,99.00 L363.70,99.00 L365.84,99.00 L367.98,99.00 L370.12,99.00 L372.26,99.00 L374.40,99.00" fill="none" stroke="#000" stroke-width="1.7"/>
<path d="M32.00,168.60 L34.14,168.60 L36.28,168.60 L38.42,168.60 L40.56,168.60 L42.70,168.60 L44.84,168.60 L46.98,168.60 L49.12,168.60 L51.26,168.60 L53.40,168.60 L55.54,168.60 L57.68,168.60 L59.82,168.60 L61.96,168.60 L64.10,168.60 L66.24,168.60 L68.38,168.60 L70.52,168.60 L72.66,168.60 L74.80,168.60 L76.94,168.60 L79.08,168.60 L81.22,168.60 L83.36,168.60 L85.50,168.60 L87.64,168.60 L89.78,168.60 L91.92,168.60 L94.06,168.60 L96.20,168.60 L98.34,168.60 L100.48,168.60 L102.62,168.61 L104.76,168.61 L106.90,168.61 L109.04,168.62 L111.18,168.63 L113.32,168.64 L115.46,168.66 L117.60,168.69 L119.74,168.72 L121.88,168.76 L124.02,168.82 L126.16,168.90 L128.30,169.00 L130.44,169.13 L132.58,169.30 L134.72,169.51 L136.86,169.78 L139.00,170.10 L141.14,170.50 L143.28,170.99 L145.42,171.57 L147.56,172.26 L149.70,173.07 L151.84,174.01 L153.98,175.08 L156.12,176.30 L158.26,177.66 L160.40,179.16 L162.54,180.80 L164.68,182.57 L166.82,184.44 L168.96,186.40 L171.10,188.42 L173.24,190.47 L175.38,192.50 L177.52,194.49 L179.66,196.38 L181.80,198.14 L183.94,199.73 L186.08,201.09 L188.22,202.21 L190.36,203.05 L192.50,203.58 L194.64,203.80 L196.78,203.69 L198.92,203.26 L201.06,202.52 L203.20,201.50 L205.34,200.21 L207.48,198.70 L209.62,196.99 L211.76,195.14 L213.90,193.18 L216.04,191.15 L218.18,189.11 L220.32,187.08 L222.46,185.09 L224.60,183.19 L226.74,181.38 L228.88,179.70 L231.02,178.15 L233.16,176.74 L235.30,175.48 L237.44,174.36 L239.58,173.37 L241.72,172.52 L243.86,171.79 L246.00,171.18 L248.14,170.66 L250.28,170.23 L252.42,169.88 L254.56,169.59 L256.70,169.37 L258.84,169.18 L260.98,169.04 L263.12,168.93 L265.26,168.85 L267.40,168.78 L269.54,168.73 L271.68,168.70 L273.82,168.67 L275.96,168.65 L278.10,168.63 L280.24,168.62 L282.38,168.62 L284.52,168.61 L286.66,168.61 L288.80,168.61 L290.94,168.60 L293.08,168.60 L295.22,168.60 L297.36,168.60 L299.50,168.60 L301.64,168.60 L303.78,168.60 L305.92,168.60 L308.06,168.60 L310.20,168.60 L312.34,168.60 L314.48,168.60 L316.62,168.60 L318.76,168.60 L320.90,168.60 L323.04,168.60 L325.18,168.60 L327.32,168.60 L329.46,168.60 L331.60,168.60 L333.74,168.60 L335.88,168.60 L338.02,168.60 L340.16,168.60 L342.30,168.60 L344.44,168.60 L346.58,168.60 L348.72,168.60 L350.86,168.60 L353.00,168.60 L355.14,168.60 L357.28,168.60 L359.42,168.60 L361.56,168.60 L363.70,168.60 L365.84,168.60 L367.98,168.60 L370.12,168.60 L372.26,168.60 L374.40,168.60" fill="none" stroke="#000" stroke-width="1.7"/>
<path d="M32.00,237.60 L34.14,237.60 L36.28,237.60 L38.42,237.60 L40.56,237.60 L42.70,237.60 L44.84,237.60 L46.98,237.60 L49.12,237.60 L51.26,237.60 L53.40,237.60 L55.54,237.60 L57.68,237.60 L59.82,237.60 L61.96,237.61 L64.10,237.61 L66.24,237.61 L68.38,237.61 L70.52,237.62 L72.66,237.62 L74.80,237.63 L76.94,237.64 L79.08,237.65 L81.22,237.67 L83.36,237.69 L85.50,237.71 L87.64,237.74 L89.78,237.78 L91.92,237.83 L94.06,237.88 L96.20,237.95 L98.34,238.03 L100.48,238.13 L102.62,238.25 L104.76,238.39 L106.90,238.56 L109.04,238.75 L111.18,238.98 L113.32,239.25 L115.46,239.55 L117.60,239.90 L119.74,240.30 L121.88,240.76 L124.02,241.27 L126.16,241.84 L128.30,242.48 L130.44,243.18 L132.58,243.95 L134.72,244.79 L136.86,245.70 L139.00,246.69 L141.14,247.73 L143.28,248.85 L145.42,250.02 L147.56,251.24 L149.70,252.51 L151.84,253.81 L153.98,255.14 L156.12,256.48 L158.26,257.82 L160.40,259.14 L162.54,260.43 L164.68,261.68 L166.82,262.87 L168.96,263.98 L171.10,265.00 L173.24,265.92 L175.38,266.72 L177.52,267.39 L179.66,267.92 L181.80,268.30 L183.94,268.53 L186.08,268.60 L188.22,268.50 L190.36,268.23 L192.50,267.78 L194.64,267.16 L196.78,266.39 L198.92,265.47 L201.06,264.43 L203.20,263.27 L205.34,262.02 L207.48,260.70 L209.62,259.32 L211.76,257.90 L213.90,256.47 L216.04,255.03 L218.18,253.62 L220.32,252.23 L222.46,250.88 L224.60,249.59 L226.74,248.36 L228.88,247.20 L231.02,246.11 L233.16,245.11 L235.30,244.18 L237.44,243.33 L239.58,242.57 L241.72,241.88 L243.86,241.27 L246.00,240.72 L248.14,240.24 L250.28,239.82 L252.42,239.46 L254.56,239.15 L256.70,238.88 L258.84,238.65 L260.98,238.46 L263.12,238.30 L265.26,238.16 L267.40,238.05 L269.54,237.96 L271.68,237.89 L273.82,237.83 L275.96,237.78 L278.10,237.74 L280.24,237.71 L282.38,237.68 L284.52,237.66 L286.66,237.65 L288.80,237.64 L290.94,237.63 L293.08,237.62 L295.22,237.62 L297.36,237.61 L299.50,237.61 L301.64,237.61 L303.78,237.60 L305.92,237.60 L308.06,237.60 L310.20,237.60 L312.34,237.60 L314.48,237.60 L316.62,237.60 L318.76,237.60 L320.90,237.60 L323.04,237.60 L325.18,237.60 L327.32,237.60 L329.46,237.60 L331.60,237.60 L333.74,237.60 L335.88,237.60 L338.02,237.60 L340.16,237.60 L342.30,237.60 L344.44,237.60 L346.58,237.60 L348.72,237.60 L350.86,237.60 L353.00,237.60 L355.14,237.60 L357.28,237.60 L359.42,237.60 L361.56,237.60 L363.70,237.60 L365.84,237.60 L367.98,237.60 L370.12,237.60 L372.26,237.60 L374.40,237.60" fill="none" stroke="#000" stroke-width="1.7"/>
<path d="M32.00,307.30 L34.14,307.30 L36.28,307.30 L38.42,307.30 L40.56,307.30 L42.70,307.30 L44.84,307.30 L46.98,307.30 L49.12,307.30 L51.26,307.30 L53.40,307.30 L55.54,307.30 L57.68,307.30 L59.82,307.30 L61.96,307.30 L64.10,307.30 L66.24,307.30 L68.38,307.30 L70.52,307.30 L72.66,307.30 L74.80,307.30 L76.94,307.30 L79.08,307.30 L81.22,307.30 L83.36,307.30 L85.50,307.30 L87.64,307.31 L89.78,307.31 L91.92,307.31 L94.06,307.32 L96.20,307.32 L98.34,307.33 L100.48,307.34 L102.62,307.36 L104.76,307.38 L106.90,307.41 L109.04,307.44 L111.18,307.49 L113.32,307.55 L115.46,307.63 L117.60,307.73 L119.74,307.85 L121.88,308.00 L124.02,308.18 L126.16,308.41 L128.30,308.68 L130.44,309.01 L132.58,309.40 L134.72,309.86 L136.86,310.40 L139.00,311.01 L141.14,311.72 L143.28,312.52 L145.42,313.43 L147.56,314.43 L149.70,315.53 L151.84,316.73 L153.98,318.03 L156.12,319.41 L158.26,320.86 L160.40,322.38 L162.54,323.93 L164.68,325.51 L166.82,327.08 L168.96,328.63 L171.10,330.12 L173.24,331.53 L175.38,332.83 L177.52,334.00 L179.66,335.01 L181.80,335.84 L183.94,336.47 L186.08,336.89 L188.22,337.08 L190.36,337.05 L192.50,336.76 L194.64,336.22 L196.78,335.44 L198.92,334.45 L201.06,333.27 L203.20,331.93 L205.34,330.45 L207.48,328.88 L209.62,327.24 L211.76,325.56 L213.90,323.88 L216.04,322.23 L218.18,320.63 L220.32,319.09 L222.46,317.64 L224.60,316.29 L226.74,315.05 L228.88,313.93 L231.02,312.92 L233.16,312.02 L235.30,311.23 L237.44,310.54 L239.58,309.95 L241.72,309.45 L243.86,309.03 L246.00,308.68 L248.14,308.39 L250.28,308.16 L252.42,307.97 L254.56,307.81 L256.70,307.69 L258.84,307.60 L260.98,307.52 L263.12,307.47 L265.26,307.42 L267.40,307.39 L269.54,307.36 L271.68,307.35 L273.82,307.33 L275.96,307.32 L278.10,307.32 L280.24,307.31 L282.38,307.31 L284.52,307.31 L286.66,307.30 L288.80,307.30 L290.94,307.30 L293.08,307.30 L295.22,307.30 L297.36,307.30 L299.50,307.30 L301.64,307.30 L303.78,307.30 L305.92,307.30 L308.06,307.30 L310.20,307.30 L312.34,307.30 L314.48,307.30 L316.62,307.30 L318.76,307.30 L320.90,307.30 L323.04,307.30 L325.18,307.30 L327.32,307.30 L329.46,307.30 L331.60,307.30 L333.74,307.30 L335.88,307.30 L338.02,307.30 L340.16,307.30 L342.30,307.30 L344.44,307.30 L346.58,307.30 L348.72,307.30 L350.86,307.30 L353.00,307.30 L355.14,307.30 L357.28,307.30 L359.42,307.30 L361.56,307.30 L363.70,307.30 L365.84,307.30 L367.98,307.30 L370.12,307.30 L372.26,307.30 L374.40,307.30" fill="none" stroke="#000" stroke-width="1.7"/>
</g>
<g clip-path="url(#cr)">
<g fill="none" stroke="#EDB120" stroke-width="1.2"><circle cx="402.3" cy="27.0" r="2.0"/><circle cx="405.0" cy="28.2" r="2.0"/><circle cx="407.4" cy="21.5" r="2.0"/><circle cx="410.1" cy="34.3" r="2.0"/><circle cx="412.7" cy="32.4" r="2.0"/><circle cx="415.4" cy="23.3" r="2.0"/><circle cx="418.1" cy="33.4" r="2.0"/><circle cx="420.5" cy="42.3" r="2.0"/><circle cx="423.2" cy="31.3" r="2.0"/><circle cx="426.0" cy="18.2" r="2.0"/><circle cx="428.4" cy="21.9" r="2.0"/><circle cx="431.1" cy="27.7" r="2.0"/><circle cx="433.6" cy="37.4" r="2.0"/><circle cx="436.0" cy="36.1" r="2.0"/><circle cx="438.7" cy="43.7" r="2.0"/><circle cx="441.5" cy="42.5" r="2.0"/><circle cx="444.2" cy="30.1" r="2.0"/><circle cx="446.6" cy="45.2" r="2.0"/><circle cx="449.3" cy="46.5" r="2.0"/><circle cx="452.0" cy="42.3" r="2.0"/><circle cx="454.6" cy="31.3" r="2.0"/><circle cx="457.3" cy="33.2" r="2.0"/><circle cx="460.1" cy="25.5" r="2.0"/><circle cx="462.4" cy="62.9" r="2.0"/><circle cx="465.2" cy="20.6" r="2.0"/><circle cx="467.5" cy="23.3" r="2.0"/><circle cx="470.1" cy="45.9" r="2.0"/><circle cx="472.8" cy="46.5" r="2.0"/><circle cx="475.2" cy="61.6" r="2.0"/><circle cx="477.9" cy="54.1" r="2.0"/><circle cx="480.7" cy="51.0" r="2.0"/><circle cx="483.4" cy="45.6" r="2.0"/><circle cx="486.1" cy="36.5" r="2.0"/><circle cx="488.5" cy="41.9" r="2.0"/><circle cx="491.2" cy="34.3" r="2.0"/><circle cx="493.8" cy="52.9" r="2.0"/><circle cx="496.5" cy="53.2" r="2.0"/><circle cx="499.2" cy="49.2" r="2.0"/><circle cx="501.6" cy="60.1" r="2.0"/><circle cx="504.4" cy="32.8" r="2.0"/><circle cx="506.9" cy="45.2" r="2.0"/><circle cx="508.9" cy="62.0" r="2.0"/><circle cx="512.2" cy="44.1" r="2.0"/><circle cx="514.9" cy="61.1" r="2.0"/><circle cx="517.3" cy="51.9" r="2.0"/><circle cx="520.0" cy="46.5" r="2.0"/><circle cx="522.8" cy="62.5" r="2.0"/><circle cx="525.5" cy="43.2" r="2.0"/><circle cx="527.9" cy="71.4" r="2.0"/><circle cx="530.6" cy="67.1" r="2.0"/><circle cx="533.1" cy="21.0" r="2.0"/><circle cx="535.9" cy="22.4" r="2.0"/><circle cx="538.6" cy="44.1" r="2.0"/><circle cx="541.0" cy="31.9" r="2.0"/><circle cx="543.7" cy="41.0" r="2.0"/><circle cx="546.5" cy="31.3" r="2.0"/><circle cx="548.8" cy="54.3" r="2.0"/><circle cx="551.6" cy="34.1" r="2.0"/><circle cx="554.1" cy="43.7" r="2.0"/><circle cx="557.0" cy="32.3" r="2.0"/><circle cx="559.6" cy="34.3" r="2.0"/><circle cx="561.9" cy="25.2" r="2.0"/><circle cx="564.7" cy="27.7" r="2.0"/><circle cx="567.4" cy="63.8" r="2.0"/><circle cx="569.8" cy="59.2" r="2.0"/><circle cx="572.5" cy="51.6" r="2.0"/><circle cx="575.1" cy="7.8" r="2.0"/><circle cx="577.4" cy="46.5" r="2.0"/><circle cx="580.2" cy="37.4" r="2.0"/><circle cx="582.9" cy="46.1" r="2.0"/><circle cx="585.6" cy="50.1" r="2.0"/><circle cx="588.4" cy="15.5" r="2.0"/><circle cx="590.7" cy="38.3" r="2.0"/><circle cx="593.5" cy="31.0" r="2.0"/><circle cx="596.0" cy="58.7" r="2.0"/><circle cx="598.8" cy="8.2" r="2.0"/><circle cx="601.1" cy="21.5" r="2.0"/><circle cx="603.9" cy="25.9" r="2.0"/><circle cx="606.6" cy="55.6" r="2.0"/><circle cx="609.3" cy="33.2" r="2.0"/><circle cx="611.7" cy="19.1" r="2.0"/></g>
<g fill="none" stroke="#A2142F" stroke-width="1.2"><circle cx="402.3" cy="86.9" r="2.0"/><circle cx="405.0" cy="86.5" r="2.0"/><circle cx="407.4" cy="92.7" r="2.0"/><circle cx="410.1" cy="86.5" r="2.0"/><circle cx="412.7" cy="80.5" r="2.0"/><circle cx="415.4" cy="90.9" r="2.0"/><circle cx="418.1" cy="84.1" r="2.0"/><circle cx="420.5" cy="75.4" r="2.0"/><circle cx="423.2" cy="95.4" r="2.0"/><circle cx="426.0" cy="87.4" r="2.0"/><circle cx="428.4" cy="93.6" r="2.0"/><circle cx="431.1" cy="99.1" r="2.0"/><circle cx="433.6" cy="102.4" r="2.0"/><circle cx="436.0" cy="96.3" r="2.0"/><circle cx="438.7" cy="94.2" r="2.0"/><circle cx="441.5" cy="90.9" r="2.0"/><circle cx="444.2" cy="102.7" r="2.0"/><circle cx="446.6" cy="107.3" r="2.0"/><circle cx="449.3" cy="116.4" r="2.0"/><circle cx="452.0" cy="99.3" r="2.0"/><circle cx="454.6" cy="97.4" r="2.0"/><circle cx="457.3" cy="90.0" r="2.0"/><circle cx="460.1" cy="105.5" r="2.0"/><circle cx="462.4" cy="84.1" r="2.0"/><circle cx="465.2" cy="86.5" r="2.0"/><circle cx="467.5" cy="107.3" r="2.0"/><circle cx="470.1" cy="115.1" r="2.0"/><circle cx="472.8" cy="110.9" r="2.0"/><circle cx="475.2" cy="97.3" r="2.0"/><circle cx="478.3" cy="78.3" r="2.0"/><circle cx="480.7" cy="116.4" r="2.0"/><circle cx="483.4" cy="96.9" r="2.0"/><circle cx="486.1" cy="90.5" r="2.0"/><circle cx="488.5" cy="102.9" r="2.0"/><circle cx="491.2" cy="104.7" r="2.0"/><circle cx="493.8" cy="98.4" r="2.0"/><circle cx="496.5" cy="120.2" r="2.0"/><circle cx="499.2" cy="117.9" r="2.0"/><circle cx="501.6" cy="115.1" r="2.0"/><circle cx="504.4" cy="122.4" r="2.0"/><circle cx="506.9" cy="100.0" r="2.0"/><circle cx="508.9" cy="113.3" r="2.0"/><circle cx="512.2" cy="100.5" r="2.0"/><circle cx="514.9" cy="133.0" r="2.0"/><circle cx="517.3" cy="103.8" r="2.0"/><circle cx="520.0" cy="100.9" r="2.0"/><circle cx="522.8" cy="112.7" r="2.0"/><circle cx="525.5" cy="110.2" r="2.0"/><circle cx="527.9" cy="95.4" r="2.0"/><circle cx="530.6" cy="118.4" r="2.0"/><circle cx="533.1" cy="103.3" r="2.0"/><circle cx="535.9" cy="119.3" r="2.0"/><circle cx="538.6" cy="102.9" r="2.0"/><circle cx="541.0" cy="109.3" r="2.0"/><circle cx="543.7" cy="98.7" r="2.0"/><circle cx="546.5" cy="103.8" r="2.0"/><circle cx="548.8" cy="102.4" r="2.0"/><circle cx="551.6" cy="92.7" r="2.0"/><circle cx="554.1" cy="88.3" r="2.0"/><circle cx="557.0" cy="106.9" r="2.0"/><circle cx="559.6" cy="104.2" r="2.0"/><circle cx="561.9" cy="82.9" r="2.0"/><circle cx="564.7" cy="97.3" r="2.0"/><circle cx="567.4" cy="118.8" r="2.0"/><circle cx="569.8" cy="99.1" r="2.0"/><circle cx="572.5" cy="88.3" r="2.0"/><circle cx="575.1" cy="100.2" r="2.0"/><circle cx="577.4" cy="93.6" r="2.0"/><circle cx="580.2" cy="92.3" r="2.0"/><circle cx="582.9" cy="84.5" r="2.0"/><circle cx="585.6" cy="94.2" r="2.0"/><circle cx="588.4" cy="105.6" r="2.0"/><circle cx="590.7" cy="94.2" r="2.0"/><circle cx="593.5" cy="102.9" r="2.0"/><circle cx="596.0" cy="77.2" r="2.0"/><circle cx="598.8" cy="88.1" r="2.0"/><circle cx="601.1" cy="114.2" r="2.0"/><circle cx="603.9" cy="84.1" r="2.0"/><circle cx="606.6" cy="101.5" r="2.0"/><circle cx="609.3" cy="84.5" r="2.0"/><circle cx="611.7" cy="116.9" r="2.0"/></g>
<g fill="none" stroke="#77AC30" stroke-width="1.2"><circle cx="402.3" cy="138.3" r="2.0"/><circle cx="405.0" cy="146.3" r="2.0"/><circle cx="407.4" cy="151.4" r="2.0"/><circle cx="410.1" cy="153.2" r="2.0"/><circle cx="412.7" cy="147.2" r="2.0"/><circle cx="415.4" cy="157.8" r="2.0"/><circle cx="418.1" cy="156.3" r="2.0"/><circle cx="420.5" cy="152.9" r="2.0"/><circle cx="423.2" cy="142.9" r="2.0"/><circle cx="426.0" cy="149.1" r="2.0"/><circle cx="428.4" cy="141.0" r="2.0"/><circle cx="431.1" cy="149.2" r="2.0"/><circle cx="433.6" cy="133.6" r="2.0"/><circle cx="436.0" cy="148.1" r="2.0"/><circle cx="438.7" cy="154.2" r="2.0"/><circle cx="441.5" cy="149.2" r="2.0"/><circle cx="444.2" cy="149.1" r="2.0"/><circle cx="446.6" cy="158.4" r="2.0"/><circle cx="449.3" cy="152.7" r="2.0"/><circle cx="452.0" cy="148.7" r="2.0"/><circle cx="454.6" cy="153.2" r="2.0"/><circle cx="457.3" cy="161.8" r="2.0"/><circle cx="460.1" cy="147.4" r="2.0"/><circle cx="462.4" cy="148.7" r="2.0"/><circle cx="465.2" cy="161.1" r="2.0"/><circle cx="467.5" cy="156.3" r="2.0"/><circle cx="470.1" cy="160.5" r="2.0"/><circle cx="472.8" cy="157.8" r="2.0"/><circle cx="475.2" cy="153.2" r="2.0"/><circle cx="478.3" cy="154.2" r="2.0"/><circle cx="480.7" cy="148.7" r="2.0"/><circle cx="483.4" cy="157.4" r="2.0"/><circle cx="486.1" cy="156.3" r="2.0"/><circle cx="488.5" cy="157.8" r="2.0"/><circle cx="491.2" cy="163.3" r="2.0"/><circle cx="493.8" cy="153.8" r="2.0"/><circle cx="496.5" cy="171.5" r="2.0"/><circle cx="499.2" cy="167.3" r="2.0"/><circle cx="501.6" cy="172.4" r="2.0"/><circle cx="504.4" cy="153.8" r="2.0"/><circle cx="506.9" cy="150.5" r="2.0"/><circle cx="508.9" cy="156.9" r="2.0"/><circle cx="512.2" cy="174.2" r="2.0"/><circle cx="514.9" cy="143.2" r="2.0"/><circle cx="517.3" cy="182.4" r="2.0"/><circle cx="520.0" cy="173.3" r="2.0"/><circle cx="522.8" cy="162.9" r="2.0"/><circle cx="525.5" cy="162.0" r="2.0"/><circle cx="527.9" cy="161.1" r="2.0"/><circle cx="530.6" cy="160.5" r="2.0"/><circle cx="533.1" cy="156.0" r="2.0"/><circle cx="535.9" cy="159.3" r="2.0"/><circle cx="538.6" cy="152.0" r="2.0"/><circle cx="541.0" cy="174.2" r="2.0"/><circle cx="543.7" cy="153.2" r="2.0"/><circle cx="546.5" cy="144.1" r="2.0"/><circle cx="548.8" cy="152.0" r="2.0"/><circle cx="551.6" cy="137.4" r="2.0"/><circle cx="554.1" cy="155.1" r="2.0"/><circle cx="557.0" cy="155.1" r="2.0"/><circle cx="559.6" cy="144.7" r="2.0"/><circle cx="561.9" cy="151.4" r="2.0"/><circle cx="564.7" cy="170.9" r="2.0"/><circle cx="567.4" cy="144.1" r="2.0"/><circle cx="569.8" cy="150.2" r="2.0"/><circle cx="572.5" cy="170.2" r="2.0"/><circle cx="575.1" cy="150.9" r="2.0"/><circle cx="577.4" cy="153.2" r="2.0"/><circle cx="580.2" cy="152.3" r="2.0"/><circle cx="582.9" cy="165.1" r="2.0"/><circle cx="585.6" cy="151.8" r="2.0"/><circle cx="588.4" cy="146.9" r="2.0"/><circle cx="590.7" cy="143.2" r="2.0"/><circle cx="593.5" cy="156.3" r="2.0"/><circle cx="596.0" cy="157.8" r="2.0"/><circle cx="598.8" cy="144.1" r="2.0"/><circle cx="601.1" cy="151.4" r="2.0"/><circle cx="603.9" cy="132.7" r="2.0"/><circle cx="606.6" cy="141.8" r="2.0"/><circle cx="609.3" cy="137.8" r="2.0"/><circle cx="611.7" cy="148.3" r="2.0"/></g>
<g fill="none" stroke="#7E2F8E" stroke-width="1.2"><circle cx="402.3" cy="204.7" r="2.0"/><circle cx="405.0" cy="215.6" r="2.0"/><circle cx="407.4" cy="206.0" r="2.0"/><circle cx="410.1" cy="207.4" r="2.0"/><circle cx="412.7" cy="212.9" r="2.0"/><circle cx="415.4" cy="208.1" r="2.0"/><circle cx="418.1" cy="208.1" r="2.0"/><circle cx="420.5" cy="213.6" r="2.0"/><circle cx="423.2" cy="222.0" r="2.0"/><circle cx="426.0" cy="217.4" r="2.0"/><circle cx="428.4" cy="202.3" r="2.0"/><circle cx="431.1" cy="205.6" r="2.0"/><circle cx="433.6" cy="207.2" r="2.0"/><circle cx="436.4" cy="212.3" r="2.0"/><circle cx="439.1" cy="200.5" r="2.0"/><circle cx="441.8" cy="202.9" r="2.0"/><circle cx="444.2" cy="211.4" r="2.0"/><circle cx="446.9" cy="209.6" r="2.0"/><circle cx="449.3" cy="220.2" r="2.0"/><circle cx="452.0" cy="229.3" r="2.0"/><circle cx="454.8" cy="220.5" r="2.0"/><circle cx="457.3" cy="203.2" r="2.0"/><circle cx="460.1" cy="213.8" r="2.0"/><circle cx="462.4" cy="217.4" r="2.0"/><circle cx="465.2" cy="222.4" r="2.0"/><circle cx="467.5" cy="214.2" r="2.0"/><circle cx="470.3" cy="206.9" r="2.0"/><circle cx="472.8" cy="230.2" r="2.0"/><circle cx="475.2" cy="242.0" r="2.0"/><circle cx="478.3" cy="214.2" r="2.0"/><circle cx="480.7" cy="211.8" r="2.0"/><circle cx="483.4" cy="225.5" r="2.0"/><circle cx="486.1" cy="221.1" r="2.0"/><circle cx="488.5" cy="222.4" r="2.0"/><circle cx="491.2" cy="217.8" r="2.0"/><circle cx="493.8" cy="221.5" r="2.0"/><circle cx="496.5" cy="228.7" r="2.0"/><circle cx="499.2" cy="228.2" r="2.0"/><circle cx="501.6" cy="206.0" r="2.0"/><circle cx="504.4" cy="208.7" r="2.0"/><circle cx="506.9" cy="199.6" r="2.0"/><circle cx="508.9" cy="216.3" r="2.0"/><circle cx="512.2" cy="230.6" r="2.0"/><circle cx="514.9" cy="239.7" r="2.0"/><circle cx="517.3" cy="243.3" r="2.0"/><circle cx="520.0" cy="222.4" r="2.0"/><circle cx="522.8" cy="211.8" r="2.0"/><circle cx="525.5" cy="228.4" r="2.0"/><circle cx="527.9" cy="234.2" r="2.0"/><circle cx="530.6" cy="230.2" r="2.0"/><circle cx="533.1" cy="232.7" r="2.0"/><circle cx="535.9" cy="218.2" r="2.0"/><circle cx="538.6" cy="223.6" r="2.0"/><circle cx="541.0" cy="224.5" r="2.0"/><circle cx="543.7" cy="207.2" r="2.0"/><circle cx="546.5" cy="223.8" r="2.0"/><circle cx="548.8" cy="222.4" r="2.0"/><circle cx="551.6" cy="209.1" r="2.0"/><circle cx="554.1" cy="202.9" r="2.0"/><circle cx="557.0" cy="221.1" r="2.0"/><circle cx="559.6" cy="225.1" r="2.0"/><circle cx="561.9" cy="209.2" r="2.0"/><circle cx="564.7" cy="214.5" r="2.0"/><circle cx="567.4" cy="213.2" r="2.0"/><circle cx="569.8" cy="222.9" r="2.0"/><circle cx="572.5" cy="203.6" r="2.0"/><circle cx="575.1" cy="222.9" r="2.0"/><circle cx="577.4" cy="232.0" r="2.0"/><circle cx="580.2" cy="226.6" r="2.0"/><circle cx="582.9" cy="212.7" r="2.0"/><circle cx="585.6" cy="233.8" r="2.0"/><circle cx="588.4" cy="223.3" r="2.0"/><circle cx="590.7" cy="207.4" r="2.0"/><circle cx="593.5" cy="213.6" r="2.0"/><circle cx="596.0" cy="210.2" r="2.0"/><circle cx="598.8" cy="210.2" r="2.0"/><circle cx="601.1" cy="216.9" r="2.0"/><circle cx="603.9" cy="224.2" r="2.0"/><circle cx="606.6" cy="210.5" r="2.0"/><circle cx="609.3" cy="208.1" r="2.0"/><circle cx="611.7" cy="190.1" r="2.0"/></g>
<g fill="none" stroke="#D95319" stroke-width="1.2"><circle cx="402.3" cy="271.3" r="2.0"/><circle cx="405.0" cy="265.0" r="2.0"/><circle cx="407.4" cy="263.3" r="2.0"/><circle cx="410.1" cy="277.4" r="2.0"/><circle cx="412.7" cy="273.2" r="2.0"/><circle cx="415.4" cy="261.0" r="2.0"/><circle cx="418.1" cy="276.5" r="2.0"/><circle cx="420.5" cy="264.6" r="2.0"/><circle cx="423.2" cy="272.8" r="2.0"/><circle cx="426.0" cy="262.8" r="2.0"/><circle cx="428.4" cy="267.9" r="2.0"/><circle cx="431.1" cy="264.2" r="2.0"/><circle cx="433.6" cy="256.8" r="2.0"/><circle cx="436.4" cy="259.1" r="2.0"/><circle cx="439.1" cy="254.6" r="2.0"/><circle cx="441.8" cy="263.7" r="2.0"/><circle cx="444.2" cy="268.6" r="2.0"/><circle cx="446.9" cy="275.2" r="2.0"/><circle cx="449.3" cy="266.4" r="2.0"/><circle cx="452.0" cy="266.4" r="2.0"/><circle cx="454.8" cy="277.9" r="2.0"/><circle cx="457.3" cy="275.5" r="2.0"/><circle cx="460.1" cy="267.0" r="2.0"/><circle cx="462.4" cy="278.6" r="2.0"/><circle cx="465.2" cy="261.3" r="2.0"/><circle cx="467.5" cy="263.3" r="2.0"/><circle cx="470.1" cy="263.3" r="2.0"/><circle cx="472.8" cy="266.4" r="2.0"/><circle cx="475.2" cy="271.3" r="2.0"/><circle cx="478.3" cy="271.9" r="2.0"/><circle cx="480.7" cy="268.2" r="2.0"/><circle cx="483.4" cy="272.8" r="2.0"/><circle cx="486.1" cy="275.5" r="2.0"/><circle cx="488.5" cy="290.1" r="2.0"/><circle cx="491.2" cy="273.2" r="2.0"/><circle cx="493.8" cy="276.5" r="2.0"/><circle cx="496.5" cy="269.2" r="2.0"/><circle cx="499.2" cy="290.7" r="2.0"/><circle cx="501.6" cy="273.7" r="2.0"/><circle cx="504.4" cy="286.5" r="2.0"/><circle cx="506.9" cy="275.0" r="2.0"/><circle cx="508.9" cy="271.9" r="2.0"/><circle cx="512.2" cy="259.1" r="2.0"/><circle cx="514.9" cy="271.9" r="2.0"/><circle cx="517.3" cy="277.9" r="2.0"/><circle cx="520.0" cy="281.9" r="2.0"/><circle cx="522.8" cy="281.0" r="2.0"/><circle cx="525.5" cy="291.0" r="2.0"/><circle cx="527.9" cy="275.0" r="2.0"/><circle cx="530.6" cy="288.3" r="2.0"/><circle cx="533.1" cy="269.2" r="2.0"/><circle cx="535.9" cy="282.5" r="2.0"/><circle cx="538.6" cy="281.9" r="2.0"/><circle cx="541.0" cy="267.0" r="2.0"/><circle cx="543.7" cy="276.5" r="2.0"/><circle cx="546.5" cy="281.6" r="2.0"/><circle cx="548.8" cy="277.7" r="2.0"/><circle cx="551.6" cy="290.7" r="2.0"/><circle cx="554.1" cy="286.5" r="2.0"/><circle cx="557.0" cy="266.8" r="2.0"/><circle cx="559.6" cy="261.0" r="2.0"/><circle cx="561.9" cy="256.4" r="2.0"/><circle cx="564.7" cy="283.2" r="2.0"/><circle cx="567.4" cy="253.3" r="2.0"/><circle cx="569.8" cy="273.4" r="2.0"/><circle cx="572.5" cy="252.8" r="2.0"/><circle cx="575.1" cy="279.2" r="2.0"/><circle cx="577.4" cy="274.6" r="2.0"/><circle cx="580.2" cy="271.0" r="2.0"/><circle cx="582.9" cy="266.1" r="2.0"/><circle cx="585.6" cy="282.8" r="2.0"/><circle cx="588.4" cy="275.5" r="2.0"/><circle cx="590.7" cy="269.2" r="2.0"/><circle cx="593.5" cy="283.2" r="2.0"/><circle cx="596.0" cy="261.3" r="2.0"/><circle cx="598.8" cy="260.6" r="2.0"/><circle cx="601.1" cy="278.6" r="2.0"/><circle cx="603.9" cy="257.9" r="2.0"/><circle cx="606.6" cy="254.2" r="2.0"/><circle cx="609.3" cy="261.3" r="2.0"/><circle cx="611.7" cy="269.2" r="2.0"/></g>
<g fill="none" stroke="#0072BD" stroke-width="1.2"><circle cx="402.3" cy="329.3" r="2.0"/><circle cx="405.0" cy="305.4" r="2.0"/><circle cx="407.4" cy="329.6" r="2.0"/><circle cx="410.1" cy="319.6" r="2.0"/><circle cx="412.7" cy="316.0" r="2.0"/><circle cx="415.4" cy="328.4" r="2.0"/><circle cx="418.1" cy="312.3" r="2.0"/><circle cx="420.5" cy="315.4" r="2.0"/><circle cx="423.2" cy="314.1" r="2.0"/><circle cx="426.0" cy="327.8" r="2.0"/><circle cx="428.4" cy="321.1" r="2.0"/><circle cx="431.1" cy="313.8" r="2.0"/><circle cx="433.6" cy="319.6" r="2.0"/><circle cx="436.4" cy="331.8" r="2.0"/><circle cx="439.1" cy="327.4" r="2.0"/><circle cx="441.8" cy="333.8" r="2.0"/><circle cx="444.2" cy="312.3" r="2.0"/><circle cx="446.9" cy="313.8" r="2.0"/><circle cx="449.3" cy="327.3" r="2.0"/><circle cx="452.0" cy="323.6" r="2.0"/><circle cx="454.6" cy="311.9" r="2.0"/><circle cx="457.3" cy="330.0" r="2.0"/><circle cx="460.1" cy="327.3" r="2.0"/><circle cx="462.4" cy="317.8" r="2.0"/><circle cx="465.2" cy="330.5" r="2.0"/><circle cx="467.5" cy="316.3" r="2.0"/><circle cx="470.1" cy="324.2" r="2.0"/><circle cx="472.8" cy="333.3" r="2.0"/><circle cx="475.2" cy="337.8" r="2.0"/><circle cx="478.3" cy="315.6" r="2.0"/><circle cx="480.7" cy="321.4" r="2.0"/><circle cx="483.4" cy="328.7" r="2.0"/><circle cx="486.1" cy="326.9" r="2.0"/><circle cx="488.5" cy="331.5" r="2.0"/><circle cx="491.2" cy="327.4" r="2.0"/><circle cx="493.8" cy="335.5" r="2.0"/><circle cx="496.5" cy="338.7" r="2.0"/><circle cx="499.2" cy="343.8" r="2.0"/><circle cx="501.6" cy="338.7" r="2.0"/><circle cx="504.4" cy="324.5" r="2.0"/><circle cx="506.9" cy="336.0" r="2.0"/><circle cx="508.9" cy="341.5" r="2.0"/><circle cx="512.2" cy="326.9" r="2.0"/><circle cx="514.9" cy="323.2" r="2.0"/><circle cx="517.3" cy="339.3" r="2.0"/><circle cx="520.0" cy="357.9" r="2.0"/><circle cx="522.8" cy="336.9" r="2.0"/><circle cx="525.5" cy="339.7" r="2.0"/><circle cx="527.9" cy="343.3" r="2.0"/><circle cx="530.6" cy="333.8" r="2.0"/><circle cx="533.1" cy="344.8" r="2.0"/><circle cx="535.9" cy="340.6" r="2.0"/><circle cx="538.6" cy="335.5" r="2.0"/><circle cx="541.0" cy="333.8" r="2.0"/><circle cx="543.7" cy="330.2" r="2.0"/><circle cx="546.5" cy="345.5" r="2.0"/><circle cx="548.8" cy="338.2" r="2.0"/><circle cx="551.6" cy="334.2" r="2.0"/><circle cx="554.1" cy="318.7" r="2.0"/><circle cx="557.0" cy="324.2" r="2.0"/><circle cx="559.6" cy="306.3" r="2.0"/><circle cx="561.9" cy="332.0" r="2.0"/><circle cx="564.7" cy="308.1" r="2.0"/><circle cx="567.4" cy="358.4" r="2.0"/><circle cx="569.8" cy="356.4" r="2.0"/><circle cx="572.5" cy="328.4" r="2.0"/><circle cx="575.1" cy="328.7" r="2.0"/><circle cx="577.4" cy="338.2" r="2.0"/><circle cx="580.2" cy="323.6" r="2.0"/><circle cx="582.9" cy="336.6" r="2.0"/><circle cx="585.6" cy="324.5" r="2.0"/><circle cx="588.4" cy="314.1" r="2.0"/><circle cx="590.7" cy="342.4" r="2.0"/><circle cx="593.5" cy="327.8" r="2.0"/><circle cx="596.0" cy="334.7" r="2.0"/><circle cx="598.8" cy="325.1" r="2.0"/><circle cx="601.1" cy="324.2" r="2.0"/><circle cx="603.9" cy="328.2" r="2.0"/><circle cx="606.6" cy="316.3" r="2.0"/><circle cx="609.3" cy="342.7" r="2.0"/><circle cx="611.7" cy="345.1" r="2.0"/></g>
<path d="M402.30,28.99 L403.60,29.01 L404.91,29.02 L406.21,29.04 L407.52,29.06 L408.82,29.08 L410.13,29.11 L411.43,29.14 L412.74,29.17 L414.04,29.20 L415.34,29.24 L416.65,29.29 L417.95,29.33 L419.26,29.39 L420.56,29.45 L421.87,29.51 L423.17,29.59 L424.47,29.67 L425.78,29.76 L427.08,29.85 L428.39,29.96 L429.69,30.07 L431.00,30.20 L432.30,30.33 L433.61,30.48 L434.91,30.64 L436.21,30.81 L437.52,31.00 L438.82,31.19 L440.13,31.41 L441.43,31.64 L442.74,31.88 L444.04,32.14 L445.34,32.42 L446.65,32.71 L447.95,33.02 L449.26,33.35 L450.56,33.69 L451.87,34.06 L453.17,34.44 L454.48,34.84 L455.78,35.25 L457.08,35.68 L458.39,36.13 L459.69,36.60 L461.00,37.08 L462.30,37.58 L463.61,38.08 L464.91,38.61 L466.21,39.14 L467.52,39.68 L468.82,40.24 L470.13,40.80 L471.43,41.36 L472.74,41.93 L474.04,42.50 L475.35,43.08 L476.65,43.64 L477.95,44.21 L479.26,44.77 L480.56,45.32 L481.87,45.86 L483.17,46.38 L484.48,46.89 L485.78,47.38 L487.08,47.85 L488.39,48.30 L489.69,48.73 L491.00,49.13 L492.30,49.50 L493.61,49.84 L494.91,50.14 L496.22,50.42 L497.52,50.66 L498.82,50.86 L500.13,51.03 L501.43,51.15 L502.74,51.24 L504.04,51.29 L505.35,51.30 L506.65,51.26 L507.95,51.17 L509.26,51.02 L510.56,50.83 L511.87,50.59 L513.17,50.30 L514.48,49.96 L515.78,49.58 L517.09,49.16 L518.39,48.71 L519.69,48.22 L521.00,47.69 L522.30,47.14 L523.61,46.57 L524.91,45.97 L526.22,45.35 L527.52,44.72 L528.82,44.08 L530.13,43.43 L531.43,42.77 L532.74,42.12 L534.04,41.46 L535.35,40.81 L536.65,40.17 L537.96,39.54 L539.26,38.91 L540.56,38.31 L541.87,37.72 L543.17,37.15 L544.48,36.59 L545.78,36.06 L547.09,35.55 L548.39,35.06 L549.69,34.59 L551.00,34.15 L552.30,33.73 L553.61,33.33 L554.91,32.96 L556.22,32.61 L557.52,32.28 L558.83,31.97 L560.13,31.69 L561.43,31.42 L562.74,31.18 L564.04,30.95 L565.35,30.74 L566.65,30.55 L567.96,30.38 L569.26,30.22 L570.56,30.07 L571.87,29.94 L573.17,29.82 L574.48,29.72 L575.78,29.62 L577.09,29.53 L578.39,29.46 L579.69,29.39 L581.00,29.33 L582.30,29.27 L583.61,29.22 L584.91,29.18 L586.22,29.14 L587.52,29.11 L588.83,29.08 L590.13,29.06 L591.43,29.03 L592.74,29.01 L594.04,29.00 L595.35,28.98 L596.65,28.97 L597.96,28.96 L599.26,28.95 L600.57,28.94 L601.87,28.94 L603.17,28.93 L604.48,28.93 L605.78,28.92 L607.09,28.92 L608.39,28.91 L609.70,28.91 L611.00,28.91" fill="none" stroke="#000" stroke-width="1.7"/>
<path d="M402.30,86.61 L403.60,86.62 L404.91,86.62 L406.21,86.62 L407.52,86.63 L408.82,86.63 L410.13,86.64 L411.43,86.65 L412.74,86.65 L414.04,86.66 L415.34,86.67 L416.65,86.69 L417.95,86.70 L419.26,86.72 L420.56,86.74 L421.87,86.76 L423.17,86.79 L424.47,86.81 L425.78,86.85 L427.08,86.88 L428.39,86.93 L429.69,86.97 L431.00,87.03 L432.30,87.09 L433.61,87.16 L434.91,87.23 L436.21,87.32 L437.52,87.41 L438.82,87.52 L440.13,87.63 L441.43,87.76 L442.74,87.90 L444.04,88.06 L445.34,88.23 L446.65,88.41 L447.95,88.61 L449.26,88.83 L450.56,89.07 L451.87,89.33 L453.17,89.61 L454.48,89.91 L455.78,90.23 L457.08,90.58 L458.39,90.95 L459.69,91.34 L461.00,91.76 L462.30,92.20 L463.61,92.66 L464.91,93.15 L466.21,93.67 L467.52,94.21 L468.82,94.77 L470.13,95.35 L471.43,95.96 L472.74,96.58 L474.04,97.23 L475.35,97.89 L476.65,98.57 L477.95,99.26 L479.26,99.96 L480.56,100.67 L481.87,101.38 L483.17,102.10 L484.48,102.82 L485.78,103.53 L487.08,104.24 L488.39,104.93 L489.69,105.61 L491.00,106.28 L492.30,106.92 L493.61,107.54 L494.91,108.13 L496.22,108.69 L497.52,109.22 L498.82,109.71 L500.13,110.16 L501.43,110.56 L502.74,110.92 L504.04,111.23 L505.35,111.49 L506.65,111.70 L507.95,111.85 L509.26,111.95 L510.56,112.00 L511.87,111.99 L513.17,111.92 L514.48,111.80 L515.78,111.62 L517.09,111.39 L518.39,111.10 L519.69,110.76 L521.00,110.38 L522.30,109.94 L523.61,109.47 L524.91,108.95 L526.22,108.40 L527.52,107.81 L528.82,107.19 L530.13,106.54 L531.43,105.87 L532.74,105.18 L534.04,104.48 L535.35,103.76 L536.65,103.04 L537.96,102.31 L539.26,101.58 L540.56,100.85 L541.87,100.13 L543.17,99.41 L544.48,98.71 L545.78,98.01 L547.09,97.34 L548.39,96.68 L549.69,96.04 L551.00,95.42 L552.30,94.82 L553.61,94.25 L554.91,93.70 L556.22,93.17 L557.52,92.67 L558.83,92.20 L560.13,91.75 L561.43,91.33 L562.74,90.93 L564.04,90.55 L565.35,90.20 L566.65,89.88 L567.96,89.57 L569.26,89.29 L570.56,89.03 L571.87,88.79 L573.17,88.57 L574.48,88.37 L575.78,88.18 L577.09,88.02 L578.39,87.86 L579.69,87.72 L581.00,87.60 L582.30,87.48 L583.61,87.38 L584.91,87.29 L586.22,87.20 L587.52,87.13 L588.83,87.06 L590.13,87.00 L591.43,86.95 L592.74,86.91 L594.04,86.87 L595.35,86.83 L596.65,86.80 L597.96,86.77 L599.26,86.75 L600.57,86.73 L601.87,86.71 L603.17,86.69 L604.48,86.68 L605.78,86.67 L607.09,86.66 L608.39,86.65 L609.70,86.64 L611.00,86.63" fill="none" stroke="#000" stroke-width="1.7"/>
<path d="M402.30,149.20 L403.60,149.20 L404.91,149.20 L406.21,149.20 L407.52,149.20 L408.82,149.20 L410.13,149.20 L411.43,149.20 L412.74,149.20 L414.04,149.21 L415.34,149.21 L416.65,149.21 L417.95,149.21 L419.26,149.21 L420.56,149.22 L421.87,149.22 L423.17,149.22 L424.47,149.23 L425.78,149.23 L427.08,149.24 L428.39,149.25 L429.69,149.26 L431.00,149.27 L432.30,149.29 L433.61,149.30 L434.91,149.32 L436.21,149.34 L437.52,149.37 L438.82,149.40 L440.13,149.44 L441.43,149.48 L442.74,149.52 L444.04,149.58 L445.34,149.64 L446.65,149.71 L447.95,149.78 L449.26,149.87 L450.56,149.97 L451.87,150.08 L453.17,150.21 L454.48,150.34 L455.78,150.50 L457.08,150.66 L458.39,150.85 L459.69,151.05 L461.00,151.27 L462.30,151.51 L463.61,151.77 L464.91,152.05 L466.21,152.35 L467.52,152.67 L468.82,153.01 L470.13,153.38 L471.43,153.76 L472.74,154.16 L474.04,154.59 L475.35,155.03 L476.65,155.48 L477.95,155.96 L479.26,156.44 L480.56,156.94 L481.87,157.44 L483.17,157.96 L484.48,158.47 L485.78,158.98 L487.08,159.50 L488.39,160.00 L489.69,160.50 L491.00,160.98 L492.30,161.44 L493.61,161.88 L494.91,162.30 L496.22,162.69 L497.52,163.05 L498.82,163.38 L500.13,163.67 L501.43,163.91 L502.74,164.12 L504.04,164.28 L505.35,164.40 L506.65,164.47 L507.95,164.50 L509.26,164.48 L510.56,164.41 L511.87,164.29 L513.17,164.12 L514.48,163.91 L515.78,163.65 L517.09,163.35 L518.39,163.02 L519.69,162.64 L521.00,162.24 L522.30,161.81 L523.61,161.35 L524.91,160.88 L526.22,160.38 L527.52,159.87 L528.82,159.36 L530.13,158.83 L531.43,158.31 L532.74,157.78 L534.04,157.26 L535.35,156.75 L536.65,156.24 L537.96,155.75 L539.26,155.28 L540.56,154.82 L541.87,154.37 L543.17,153.95 L544.48,153.55 L545.78,153.17 L547.09,152.81 L548.39,152.47 L549.69,152.16 L551.00,151.87 L552.30,151.59 L553.61,151.34 L554.91,151.11 L556.22,150.90 L557.52,150.71 L558.83,150.53 L560.13,150.37 L561.43,150.23 L562.74,150.10 L564.04,149.99 L565.35,149.88 L566.65,149.79 L567.96,149.71 L569.26,149.64 L570.56,149.58 L571.87,149.52 L573.17,149.48 L574.48,149.43 L575.78,149.40 L577.09,149.37 L578.39,149.34 L579.69,149.32 L581.00,149.30 L582.30,149.28 L583.61,149.27 L584.91,149.26 L586.22,149.25 L587.52,149.24 L588.83,149.23 L590.13,149.23 L591.43,149.22 L592.74,149.22 L594.04,149.21 L595.35,149.21 L596.65,149.21 L597.96,149.21 L599.26,149.21 L600.57,149.20 L601.87,149.20 L603.17,149.20 L604.48,149.20 L605.78,149.20 L607.09,149.20 L608.39,149.20 L609.70,149.20 L611.00,149.20" fill="none" stroke="#000" stroke-width="1.7"/>
<path d="M402.30,211.65 L403.60,211.65 L404.91,211.66 L406.21,211.67 L407.52,211.68 L408.82,211.68 L410.13,211.70 L411.43,211.71 L412.74,211.72 L414.04,211.74 L415.34,211.75 L416.65,211.77 L417.95,211.79 L419.26,211.81 L420.56,211.84 L421.87,211.86 L423.17,211.89 L424.47,211.93 L425.78,211.96 L427.08,212.00 L428.39,212.04 L429.69,212.09 L431.00,212.14 L432.30,212.19 L433.61,212.25 L434.91,212.31 L436.21,212.38 L437.52,212.45 L438.82,212.53 L440.13,212.61 L441.43,212.70 L442.74,212.80 L444.04,212.90 L445.34,213.01 L446.65,213.12 L447.95,213.25 L449.26,213.38 L450.56,213.51 L451.87,213.66 L453.17,213.81 L454.48,213.97 L455.78,214.14 L457.08,214.32 L458.39,214.50 L459.69,214.70 L461.00,214.90 L462.30,215.11 L463.61,215.32 L464.91,215.55 L466.21,215.78 L467.52,216.01 L468.82,216.26 L470.13,216.51 L471.43,216.77 L472.74,217.03 L474.04,217.30 L475.35,217.57 L476.65,217.84 L477.95,218.12 L479.26,218.40 L480.56,218.69 L481.87,218.97 L483.17,219.25 L484.48,219.54 L485.78,219.82 L487.08,220.10 L488.39,220.37 L489.69,220.64 L491.00,220.91 L492.30,221.17 L493.61,221.42 L494.91,221.67 L496.22,221.90 L497.52,222.12 L498.82,222.34 L500.13,222.54 L501.43,222.73 L502.74,222.91 L504.04,223.07 L505.35,223.22 L506.65,223.35 L507.95,223.46 L509.26,223.56 L510.56,223.65 L511.87,223.71 L513.17,223.76 L514.48,223.79 L515.78,223.80 L517.09,223.79 L518.39,223.77 L519.69,223.72 L521.00,223.66 L522.30,223.58 L523.61,223.48 L524.91,223.36 L526.22,223.23 L527.52,223.08 L528.82,222.91 L530.13,222.73 L531.43,222.54 L532.74,222.33 L534.04,222.11 L535.35,221.87 L536.65,221.63 L537.96,221.38 L539.26,221.12 L540.56,220.85 L541.87,220.57 L543.17,220.29 L544.48,220.01 L545.78,219.72 L547.09,219.43 L548.39,219.14 L549.69,218.84 L551.00,218.55 L552.30,218.26 L553.61,217.97 L554.91,217.69 L556.22,217.41 L557.52,217.13 L558.83,216.86 L560.13,216.59 L561.43,216.33 L562.74,216.07 L564.04,215.83 L565.35,215.59 L566.65,215.36 L567.96,215.13 L569.26,214.92 L570.56,214.71 L571.87,214.51 L573.17,214.32 L574.48,214.14 L575.78,213.96 L577.09,213.80 L578.39,213.64 L579.69,213.49 L581.00,213.35 L582.30,213.22 L583.61,213.10 L584.91,212.98 L586.22,212.87 L587.52,212.77 L588.83,212.67 L590.13,212.58 L591.43,212.49 L592.74,212.42 L594.04,212.34 L595.35,212.28 L596.65,212.22 L597.96,212.16 L599.26,212.11 L600.57,212.06 L601.87,212.01 L603.17,211.97 L604.48,211.94 L605.78,211.90 L607.09,211.87 L608.39,211.84 L609.70,211.82 L611.00,211.79" fill="none" stroke="#000" stroke-width="1.7"/>
<path d="M402.30,268.60 L403.60,268.60 L404.91,268.60 L406.21,268.60 L407.52,268.60 L408.82,268.60 L410.13,268.60 L411.43,268.60 L412.74,268.60 L414.04,268.60 L415.34,268.60 L416.65,268.60 L417.95,268.60 L419.26,268.60 L420.56,268.60 L421.87,268.60 L423.17,268.60 L424.47,268.61 L425.78,268.61 L427.08,268.61 L428.39,268.61 L429.69,268.61 L431.00,268.61 L432.30,268.62 L433.61,268.62 L434.91,268.63 L436.21,268.63 L437.52,268.64 L438.82,268.64 L440.13,268.65 L441.43,268.66 L442.74,268.67 L444.04,268.68 L445.34,268.69 L446.65,268.71 L447.95,268.73 L449.26,268.75 L450.56,268.77 L451.87,268.80 L453.17,268.82 L454.48,268.86 L455.78,268.89 L457.08,268.94 L458.39,268.98 L459.69,269.04 L461.00,269.09 L462.30,269.16 L463.61,269.23 L464.91,269.31 L466.21,269.39 L467.52,269.49 L468.82,269.59 L470.13,269.70 L471.43,269.82 L472.74,269.95 L474.04,270.09 L475.35,270.25 L476.65,270.41 L477.95,270.58 L479.26,270.77 L480.56,270.97 L481.87,271.18 L483.17,271.40 L484.48,271.63 L485.78,271.87 L487.08,272.12 L488.39,272.38 L489.69,272.66 L491.00,272.94 L492.30,273.23 L493.61,273.52 L494.91,273.82 L496.22,274.13 L497.52,274.43 L498.82,274.74 L500.13,275.05 L501.43,275.36 L502.74,275.67 L504.04,275.97 L505.35,276.27 L506.65,276.55 L507.95,276.83 L509.26,277.09 L510.56,277.34 L511.87,277.58 L513.17,277.80 L514.48,278.00 L515.78,278.18 L517.09,278.34 L518.39,278.48 L519.69,278.59 L521.00,278.68 L522.30,278.75 L523.61,278.79 L524.91,278.80 L526.22,278.79 L527.52,278.76 L528.82,278.70 L530.13,278.62 L531.43,278.51 L532.74,278.39 L534.04,278.24 L535.35,278.08 L536.65,277.89 L537.96,277.69 L539.26,277.47 L540.56,277.24 L541.87,276.99 L543.17,276.73 L544.48,276.46 L545.78,276.19 L547.09,275.90 L548.39,275.61 L549.69,275.31 L551.00,275.02 L552.30,274.72 L553.61,274.42 L554.91,274.12 L556.22,273.83 L557.52,273.54 L558.83,273.25 L560.13,272.98 L561.43,272.70 L562.74,272.44 L564.04,272.19 L565.35,271.94 L566.65,271.70 L567.96,271.48 L569.26,271.26 L570.56,271.06 L571.87,270.86 L573.17,270.68 L574.48,270.50 L575.78,270.34 L577.09,270.19 L578.39,270.04 L579.69,269.91 L581.00,269.79 L582.30,269.67 L583.61,269.57 L584.91,269.47 L586.22,269.38 L587.52,269.30 L588.83,269.22 L590.13,269.16 L591.43,269.09 L592.74,269.04 L594.04,268.99 L595.35,268.94 L596.65,268.90 L597.96,268.86 L599.26,268.83 L600.57,268.80 L601.87,268.78 L603.17,268.75 L604.48,268.73 L605.78,268.72 L607.09,268.70 L608.39,268.69 L609.70,268.67 L611.00,268.66" fill="none" stroke="#000" stroke-width="1.7"/>
<path d="M402.30,319.80 L403.60,319.80 L404.91,319.80 L406.21,319.80 L407.52,319.80 L408.82,319.80 L410.13,319.80 L411.43,319.80 L412.74,319.80 L414.04,319.80 L415.34,319.81 L416.65,319.81 L417.95,319.81 L419.26,319.81 L420.56,319.81 L421.87,319.81 L423.17,319.82 L424.47,319.82 L425.78,319.82 L427.08,319.83 L428.39,319.84 L429.69,319.84 L431.00,319.85 L432.30,319.86 L433.61,319.87 L434.91,319.89 L436.21,319.90 L437.52,319.92 L438.82,319.94 L440.13,319.96 L441.43,319.99 L442.74,320.02 L444.04,320.06 L445.34,320.10 L446.65,320.15 L447.95,320.20 L449.26,320.27 L450.56,320.33 L451.87,320.41 L453.17,320.50 L454.48,320.60 L455.78,320.71 L457.08,320.83 L458.39,320.96 L459.69,321.11 L461.00,321.27 L462.30,321.45 L463.61,321.65 L464.91,321.87 L466.21,322.10 L467.52,322.35 L468.82,322.63 L470.13,322.92 L471.43,323.24 L472.74,323.58 L474.04,323.94 L475.35,324.33 L476.65,324.74 L477.95,325.17 L479.26,325.62 L480.56,326.09 L481.87,326.59 L483.17,327.10 L484.48,327.64 L485.78,328.19 L487.08,328.76 L488.39,329.34 L489.69,329.93 L491.00,330.52 L492.30,331.13 L493.61,331.74 L494.91,332.34 L496.22,332.95 L497.52,333.55 L498.82,334.13 L500.13,334.70 L501.43,335.26 L502.74,335.79 L504.04,336.30 L505.35,336.78 L506.65,337.23 L507.95,337.64 L509.26,338.02 L510.56,338.36 L511.87,338.65 L513.17,338.89 L514.48,339.09 L515.78,339.24 L517.09,339.34 L518.39,339.39 L519.69,339.39 L521.00,339.34 L522.30,339.24 L523.61,339.09 L524.91,338.90 L526.22,338.66 L527.52,338.38 L528.82,338.05 L530.13,337.68 L531.43,337.28 L532.74,336.85 L534.04,336.38 L535.35,335.89 L536.65,335.37 L537.96,334.83 L539.26,334.27 L540.56,333.70 L541.87,333.11 L543.17,332.52 L544.48,331.93 L545.78,331.33 L547.09,330.74 L548.39,330.15 L549.69,329.56 L551.00,328.99 L552.30,328.43 L553.61,327.88 L554.91,327.35 L556.22,326.84 L557.52,326.34 L558.83,325.86 L560.13,325.41 L561.43,324.97 L562.74,324.56 L564.04,324.17 L565.35,323.80 L566.65,323.45 L567.96,323.13 L569.26,322.83 L570.56,322.54 L571.87,322.28 L573.17,322.04 L574.48,321.81 L575.78,321.61 L577.09,321.42 L578.39,321.24 L579.69,321.09 L581.00,320.94 L582.30,320.81 L583.61,320.69 L584.91,320.59 L586.22,320.49 L587.52,320.41 L588.83,320.33 L590.13,320.26 L591.43,320.20 L592.74,320.15 L594.04,320.10 L595.35,320.06 L596.65,320.03 L597.96,319.99 L599.26,319.97 L600.57,319.94 L601.87,319.92 L603.17,319.90 L604.48,319.89 L605.78,319.87 L607.09,319.86 L608.39,319.85 L609.70,319.84 L611.00,319.84" fill="none" stroke="#000" stroke-width="1.7"/>
</g>
<rect x="32.0" y="0.5" width="342.4" height="373.5" fill="none" stroke="#3a3a3a" stroke-width="1.05"/>
<rect x="386.6" y="0.5" width="244.0" height="373.5" fill="none" stroke="#3a3a3a" stroke-width="1.05"/>
<path d="M54.6,374.0V370.0M54.6,0.5V4.5M100.2,374.0V370.0M100.2,0.5V4.5M145.9,374.0V370.0M145.9,0.5V4.5M191.5,374.0V370.0M191.5,0.5V4.5M237.2,374.0V370.0M237.2,0.5V4.5M282.9,374.0V370.0M282.9,0.5V4.5M328.5,374.0V370.0M328.5,0.5V4.5M32.0,30.1H36.0M374.4,30.1H370.4M32.0,99.0H36.0M374.4,99.0H370.4M32.0,168.6H36.0M374.4,168.6H370.4M32.0,237.6H36.0M374.4,237.6H370.4M32.0,307.3H36.0M374.4,307.3H370.4M421.3,374.0V370.0M421.3,0.5V4.5M464.9,374.0V370.0M464.9,0.5V4.5M508.4,374.0V370.0M508.4,0.5V4.5M552.0,374.0V370.0M552.0,0.5V4.5M595.5,374.0V370.0M595.5,0.5V4.5M386.6,23.7H390.6M630.6,23.7H626.6M386.6,82.4H390.6M630.6,82.4H626.6M386.6,141.4H390.6M630.6,141.4H626.6M386.6,200.1H390.6M630.6,200.1H626.6M386.6,258.4H390.6M630.6,258.4H626.6M386.6,317.2H390.6M630.6,317.2H626.6M386.6,356.2H390.6M630.6,356.2H626.6" fill="none" stroke="#3a3a3a" stroke-width="1.0"/>
<text x="54.6" y="397.3" font-size="15.7" text-anchor="middle">342</text>
<text x="100.2" y="397.3" font-size="15.7" text-anchor="middle">344</text>
<text x="145.9" y="397.3" font-size="15.7" text-anchor="middle">346</text>
<text x="191.5" y="397.3" font-size="15.7" text-anchor="middle">348</text>
<text x="237.2" y="397.3" font-size="15.7" text-anchor="middle">350</text>
<text x="282.9" y="397.3" font-size="15.7" text-anchor="middle">352</text>
<text x="328.5" y="397.3" font-size="15.7" text-anchor="middle">354</text>
<text x="421.3" y="397.3" font-size="15.7" text-anchor="middle">695</text>
<text x="464.9" y="397.3" font-size="15.7" text-anchor="middle">700</text>
<text x="508.4" y="397.3" font-size="15.7" text-anchor="middle">705</text>
<text x="552.0" y="397.3" font-size="15.7" text-anchor="middle">710</text>
<text x="595.5" y="397.3" font-size="15.7" text-anchor="middle">715</text>
<text x="259.6" y="65.4" font-size="14.2">n = 41-43</text>
<text x="259.6" y="137.3" font-size="14.2">n = 32</text>
<text x="259.6" y="208.8" font-size="14.2">n = 22</text>
<text x="259.6" y="280.7" font-size="14.2">n = 12</text>
<text x="259.6" y="352.6" font-size="14.2">n = 1</text>
<text x="417.7" y="68.6" font-size="14.2">n = 6</text>
<text x="417.7" y="126.1" font-size="14.2">n = 5</text>
<text x="417.7" y="183.6" font-size="14.2">n = 4</text>
<text x="417.7" y="241.1" font-size="14.2">n = 3</text>
<text x="417.7" y="298.6" font-size="14.2">n = 2</text>
<text x="417.7" y="356.1" font-size="14.2">n = 1</text>
<text x="172.3" y="420.3" font-size="16.2" font-style="italic">λ</text><text x="181.4" y="428.0" font-size="14">air</text><text x="201.6" y="420.3" font-size="17.5">/ nm</text>
<text x="478.0" y="420.3" font-size="16.2" font-style="italic">λ</text><text x="487.1" y="428.0" font-size="14">air</text><text x="507.3" y="420.3" font-size="17.5">/ nm</text>
<text transform="translate(13.0,187.0) rotate(-90)" font-size="17.4" text-anchor="middle">Relative Ion Yield</text>
<path d="M83.9,488.4 L371.8,469.5 L371.8,487.6 L83.9,507.2 Z" fill="#F2DEC8"/>
<path d="M83.9,498.1 L371.8,478.5" stroke="#262626" stroke-width="1.8"/>
<g stroke="#0072BD" stroke-width="1.9" fill="#0072BD"><path d="M87.3,483.4V508.4"/><path d="M94.1,479.8V506.9"/><path d="M100.8,479.4V500.3"/><path d="M107.5,482.2V497.8"/><path d="M114.2,475.2V504.4"/><path d="M120.9,476.2V496.6"/><path d="M127.7,499.8V526.7"/><path d="M134.4,476.4V497.8"/><path d="M141.1,488.8V514.2"/><path d="M147.8,475.3V502.5"/><path d="M154.5,492.8V520.9"/><path d="M161.1,493.1V517.3"/><path d="M167.8,482.5V501.7"/><path d="M174.5,482.5V503.3"/><path d="M181.2,473.3V495.5"/><path d="M188.0,490.8V521.2"/><path d="M194.7,480.2V499.1"/><path d="M201.4,478.3V506.4"/><path d="M208.1,469.7V493.1"/><path d="M214.8,480.9V508.0"/><path d="M221.6,471.2V496.2"/><path d="M228.1,480.9V499.1"/><path d="M234.8,475.9V498.1"/><path d="M241.6,465.8V490.0"/><path d="M248.3,479.8V505.9"/><path d="M255.0,467.0V484.2"/><path d="M261.7,467.3V493.1"/><path d="M268.4,479.1V504.5"/><path d="M275.0,476.7V500.9"/><path d="M281.7,467.3V495.0"/><path d="M288.4,475.9V514.7"/><path d="M295.2,462.7V482.2"/><path d="M301.9,463.1V494.7"/><path d="M308.6,471.2V520.0"/><path d="M315.3,488.1V509.5"/><path d="M322.0,468.9V504.1"/><path d="M328.8,460.3V491.6"/><path d="M335.5,466.2V499.1"/><path d="M342.2,478.8V520.0"/><path d="M348.9,449.4V485.6"/><path d="M355.6,447.5V479.8"/><path d="M362.2,461.1V483.8"/><path d="M368.9,458.4V490.8"/><circle cx="87.3" cy="496.2" r="3.4" stroke="none"/><circle cx="94.1" cy="493.1" r="3.4" stroke="none"/><circle cx="100.8" cy="489.7" r="3.4" stroke="none"/><circle cx="107.5" cy="489.7" r="3.4" stroke="none"/><circle cx="114.2" cy="490.0" r="3.4" stroke="none"/><circle cx="120.9" cy="486.2" r="3.4" stroke="none"/><circle cx="127.7" cy="513.1" r="3.4" stroke="none"/><circle cx="134.4" cy="486.9" r="3.4" stroke="none"/><circle cx="141.1" cy="501.2" r="3.4" stroke="none"/><circle cx="147.8" cy="488.8" r="3.4" stroke="none"/><circle cx="154.5" cy="506.9" r="3.4" stroke="none"/><circle cx="161.1" cy="504.8" r="3.4" stroke="none"/><circle cx="167.8" cy="492.3" r="3.4" stroke="none"/><circle cx="174.5" cy="493.1" r="3.4" stroke="none"/><circle cx="181.2" cy="484.2" r="3.4" stroke="none"/><circle cx="188.0" cy="505.6" r="3.4" stroke="none"/><circle cx="194.7" cy="489.7" r="3.4" stroke="none"/><circle cx="201.4" cy="492.3" r="3.4" stroke="none"/><circle cx="208.1" cy="481.9" r="3.4" stroke="none"/><circle cx="214.8" cy="494.4" r="3.4" stroke="none"/><circle cx="221.6" cy="484.2" r="3.4" stroke="none"/><circle cx="228.1" cy="489.7" r="3.4" stroke="none"/><circle cx="234.8" cy="486.9" r="3.4" stroke="none"/><circle cx="241.6" cy="477.8" r="3.4" stroke="none"/><circle cx="248.3" cy="492.8" r="3.4" stroke="none"/><circle cx="255.0" cy="475.6" r="3.4" stroke="none"/><circle cx="261.7" cy="480.3" r="3.4" stroke="none"/><circle cx="268.4" cy="491.9" r="3.4" stroke="none"/><circle cx="275.0" cy="488.8" r="3.4" stroke="none"/><circle cx="281.7" cy="481.4" r="3.4" stroke="none"/><circle cx="288.4" cy="495.5" r="3.4" stroke="none"/><circle cx="295.2" cy="472.5" r="3.4" stroke="none"/><circle cx="301.9" cy="478.3" r="3.4" stroke="none"/><circle cx="308.6" cy="495.5" r="3.4" stroke="none"/><circle cx="315.3" cy="498.6" r="3.4" stroke="none"/><circle cx="322.0" cy="486.1" r="3.4" stroke="none"/><circle cx="328.8" cy="475.9" r="3.4" stroke="none"/><circle cx="335.5" cy="482.5" r="3.4" stroke="none"/><circle cx="342.2" cy="499.1" r="3.4" stroke="none"/><circle cx="348.9" cy="467.3" r="3.4" stroke="none"/><circle cx="355.6" cy="463.4" r="3.4" stroke="none"/><circle cx="362.2" cy="472.5" r="3.4" stroke="none"/><circle cx="368.9" cy="474.7" r="3.4" stroke="none"/></g>
<rect x="81.0" y="441.0" width="293.7" height="88.4" fill="none" stroke="#3a3a3a" stroke-width="1.05"/>
<path d="M81.0,529.4V525.4M81.0,441.0V445.0M147.9,529.4V525.4M147.9,441.0V445.0M214.8,529.4V525.4M214.8,441.0V445.0M281.7,529.4V525.4M281.7,441.0V445.0M348.6,529.4V525.4M348.6,441.0V445.0M81.0,465.4H85.0M374.7,465.4H370.7M81.0,492.1H85.0M374.7,492.1H370.7M81.0,519.2H85.0M374.7,519.2H370.7" fill="none" stroke="#3a3a3a" stroke-width="1.0"/>
<text x="81.0" y="553.3" font-size="15.7" text-anchor="middle">0</text>
<text x="147.9" y="553.3" font-size="15.7" text-anchor="middle">10</text>
<text x="214.8" y="553.3" font-size="15.7" text-anchor="middle">20</text>
<text x="281.7" y="553.3" font-size="15.7" text-anchor="middle">30</text>
<text x="348.6" y="553.3" font-size="15.7" text-anchor="middle">40</text>
<text x="74.2" y="472.8" font-size="15.7" text-anchor="end">348.5</text>
<text x="74.2" y="499.5" font-size="15.7" text-anchor="end">348.0</text>
<text x="74.2" y="526.6" font-size="15.7" text-anchor="end">347.5</text>
<text x="227" y="577" font-size="17.5" text-anchor="middle">Number of He atoms</text>
<text transform="translate(16.3,485.5) rotate(-90)" font-size="17.1" text-anchor="middle">Peak Position / nm</text>
<path d="M399.0,462.9 L573.9,496.8 L573.9,511.5 L399.0,477.7 Z" fill="#F2DEC8"/>
<path d="M399,470.2 L573.85,504.1" stroke="#262626" stroke-width="1.8"/>
<g stroke="#0072BD" stroke-width="1.9" fill="#0072BD"><path d="M423.9,464.6V489.3"/><path d="M448.9,448.7V497.1"/><path d="M473.9,456.5V522.5"/><path d="M498.9,478.5V509.8"/><path d="M523.9,475.1V502.8"/><path d="M548.9,481.1V520.7"/><circle cx="423.9" cy="477.1" r="3.4" stroke="none"/><circle cx="448.9" cy="473.0" r="3.4" stroke="none"/><circle cx="473.9" cy="489.5" r="3.4" stroke="none"/><circle cx="498.9" cy="494.2" r="3.4" stroke="none"/><circle cx="523.9" cy="488.6" r="3.4" stroke="none"/><circle cx="548.9" cy="500.8" r="3.4" stroke="none"/></g>
<rect x="386.6" y="441.3" width="199.4" height="88.2" fill="none" stroke="#3a3a3a" stroke-width="1.05"/>
<path d="M423.9,529.5V525.5M423.9,441.3V445.3M448.9,529.5V525.5M448.9,441.3V445.3M473.9,529.5V525.5M473.9,441.3V445.3M498.9,529.5V525.5M498.9,441.3V445.3M523.9,529.5V525.5M523.9,441.3V445.3M548.9,529.5V525.5M548.9,441.3V445.3M386.6,454.8H390.6M586.0,454.8H582.0M386.6,482.0H390.6M586.0,482.0H582.0M386.6,509.0H390.6M586.0,509.0H582.0" fill="none" stroke="#3a3a3a" stroke-width="1.0"/>
<text x="423.9" y="553.3" font-size="15.7" text-anchor="middle">1</text>
<text x="448.9" y="553.3" font-size="15.7" text-anchor="middle">2</text>
<text x="473.9" y="553.3" font-size="15.7" text-anchor="middle">3</text>
<text x="498.9" y="553.3" font-size="15.7" text-anchor="middle">4</text>
<text x="523.9" y="553.3" font-size="15.7" text-anchor="middle">5</text>
<text x="548.9" y="553.3" font-size="15.7" text-anchor="middle">6</text>
<text x="591.8" y="462.2" font-size="15.7">708.0</text>
<text x="591.8" y="489.4" font-size="15.7">706.0</text>
<text x="591.8" y="516.4" font-size="15.7">704.0</text>
<text x="486" y="577" font-size="17.5" text-anchor="middle">Number of He atoms</text>
</svg></body></html>
